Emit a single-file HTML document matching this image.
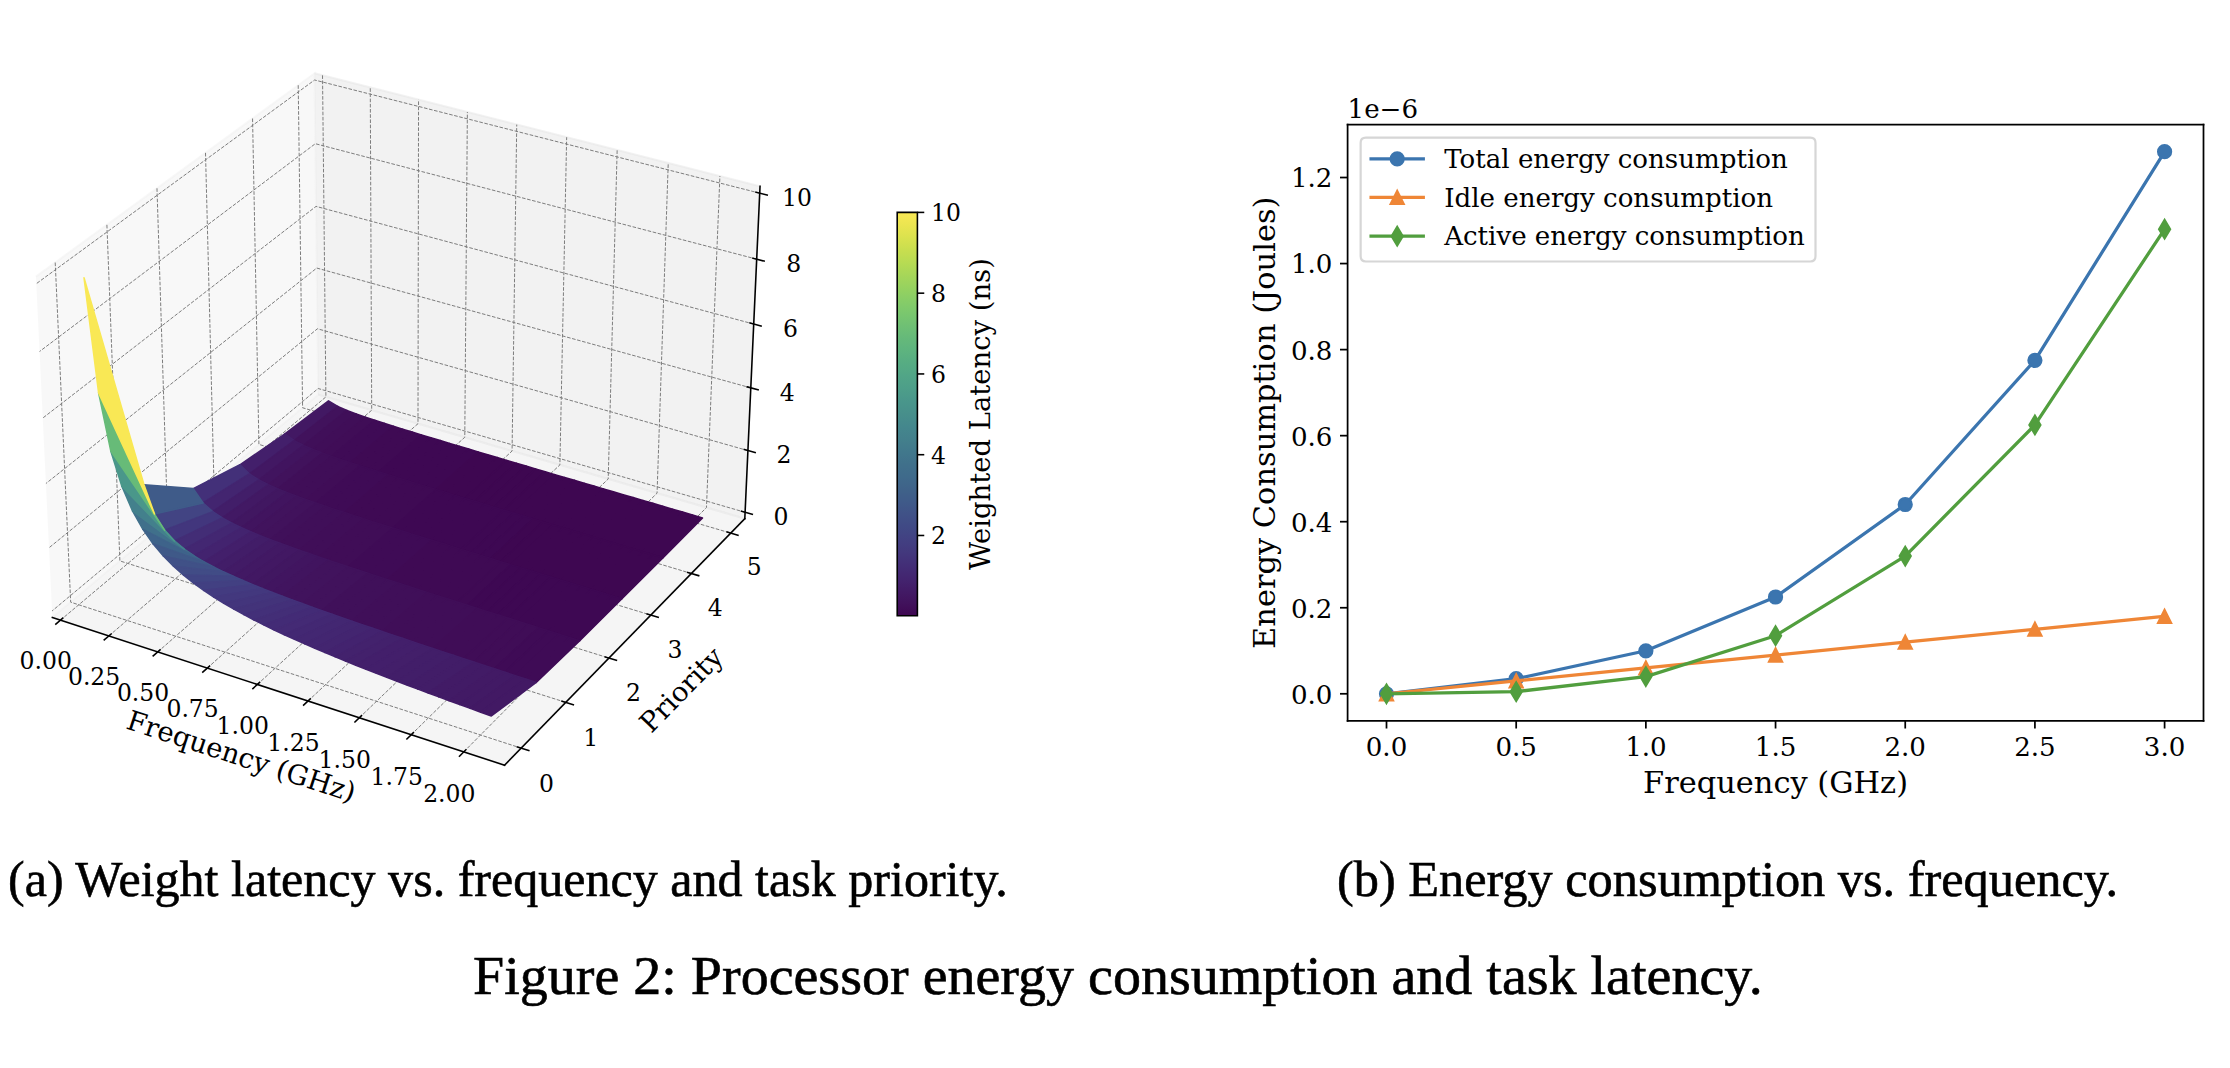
<!DOCTYPE html>
<html><head><meta charset="utf-8"><title>Figure 2</title>
<style>
html,body{margin:0;padding:0;background:#fff;}
body{width:2230px;height:1068px;position:relative;overflow:hidden;}
svg{position:absolute;left:0;top:0;display:block;}
.cap{position:absolute;-webkit-text-stroke:0.6px #000;font-family:"Liberation Serif","Times New Roman",serif;color:#000;white-space:nowrap;line-height:1;}
</style></head><body>
<svg width="2230" height="1068" viewBox="0 0 1137.755102 544.897959">

 <defs>
  <style type="text/css">*{stroke-linejoin: round; stroke-linecap: butt}</style>
 </defs>
 <g id="figure_1">
  <g id="patch_1">
   <path d="M 0 544.897959
L 1137.755102 544.897959
L 1137.755102 0
L 0 0
L 0 544.897959
z
" style="fill: none; opacity: 0"/>
  </g>
  <g id="patch_2">
   <path d="M -1 416.335714
L 406.435714 416.335714
L 406.435714 5.602551
L -1 5.602551
" style="fill: none; opacity: 0"/>
  </g>
  <g id="pane3d_1">
   <g id="patch_3">
    <path d="M 26.715737 315.062079
L 162.353242 201.368033
L 160.467751 37.400895
L 18.339292 141.11977
" style="fill: #f2f2f2; fill-opacity: 0.5; stroke-opacity: 0.5; stroke: #f2f2f2; stroke-linejoin: miter"/>
   </g>
  </g>
  <g id="pane3d_2">
   <g id="patch_4">
    <path d="M 162.353242 201.368033
L 380.003041 264.630237
L 387.770195 95.015439
L 160.467751 37.400895
" style="fill: #e6e6e6; fill-opacity: 0.5; stroke-opacity: 0.5; stroke: #e6e6e6; stroke-linejoin: miter"/>
   </g>
  </g>
  <g id="pane3d_3">
   <g id="patch_5">
    <path d="M 26.715737 315.062079
L 257.435155 390.41504
L 380.003041 264.630237
L 162.353242 201.368033
" style="fill: #ececec; fill-opacity: 0.5; stroke-opacity: 0.5; stroke: #ececec; stroke-linejoin: miter"/>
   </g>
  </g>
  <g id="grid3d_1">
   <g id="Line3DCollection_1">
    <path d="M 30.852439 316.413126
L 166.272567 202.507226
L 164.552419 38.436239
" style="fill: none; stroke-dasharray: 1.85,0.8; stroke-dashoffset: 0; stroke: #7a7a7a; stroke-width: 0.5"/>
    <path d="M 55.530557 324.472999
L 189.640979 209.299501
L 188.913107 44.610964
" style="fill: none; stroke-dasharray: 1.85,0.8; stroke-dashoffset: 0; stroke: #7a7a7a; stroke-width: 0.5"/>
    <path d="M 80.495949 332.626696
L 213.258935 216.164309
L 213.545149 50.854468
" style="fill: none; stroke-dasharray: 1.85,0.8; stroke-dashoffset: 0; stroke: #7a7a7a; stroke-width: 0.5"/>
    <path d="M 105.753662 340.875865
L 237.130454 223.102817
L 238.453106 57.167909
" style="fill: none; stroke-dasharray: 1.85,0.8; stroke-dashoffset: 0; stroke: #7a7a7a; stroke-width: 0.5"/>
    <path d="M 131.308859 349.222193
L 261.259641 230.116219
L 263.641639 63.552468
" style="fill: none; stroke-dasharray: 1.85,0.8; stroke-dashoffset: 0; stroke: #7a7a7a; stroke-width: 0.5"/>
    <path d="M 157.166828 357.667405
L 285.650691 237.205734
L 289.115515 70.009353
" style="fill: none; stroke-dasharray: 1.85,0.8; stroke-dashoffset: 0; stroke: #7a7a7a; stroke-width: 0.5"/>
    <path d="M 183.33298 366.21327
L 310.30789 244.372608
L 314.879611 76.5398
" style="fill: none; stroke-dasharray: 1.85,0.8; stroke-dashoffset: 0; stroke: #7a7a7a; stroke-width: 0.5"/>
    <path d="M 209.812859 374.861599
L 335.235617 251.618115
L 340.938915 83.145074
" style="fill: none; stroke-dasharray: 1.85,0.8; stroke-dashoffset: 0; stroke: #7a7a7a; stroke-width: 0.5"/>
    <path d="M 236.612141 383.614244
L 360.43835 258.943554
L 367.298531 89.826469
" style="fill: none; stroke-dasharray: 1.85,0.8; stroke-dashoffset: 0; stroke: #7a7a7a; stroke-width: 0.5"/>
   </g>
  </g>
  <g id="grid3d_2">
   <g id="Line3DCollection_2">
    <path d="M 28.167749 133.94741
L 36.062234 307.227661
L 265.915837 381.711775
" style="fill: none; stroke-dasharray: 1.85,0.8; stroke-dashoffset: 0; stroke: #7a7a7a; stroke-width: 0.5"/>
    <path d="M 54.541094 114.701344
L 61.166536 286.184737
L 288.669026 358.361405
" style="fill: none; stroke-dasharray: 1.85,0.8; stroke-dashoffset: 0; stroke: #7a7a7a; stroke-width: 0.5"/>
    <path d="M 80.088829 96.057771
L 85.51868 265.772287
L 310.704958 335.747118
" style="fill: none; stroke-dasharray: 1.85,0.8; stroke-dashoffset: 0; stroke: #7a7a7a; stroke-width: 0.5"/>
    <path d="M 104.849126 77.988834
L 109.151971 245.962393
L 332.057022 313.834647
" style="fill: none; stroke-dasharray: 1.85,0.8; stroke-dashoffset: 0; stroke: #7a7a7a; stroke-width: 0.5"/>
    <path d="M 128.857836 60.468371
L 132.097776 226.728765
L 352.756567 292.591822
" style="fill: none; stroke-dasharray: 1.85,0.8; stroke-dashoffset: 0; stroke: #7a7a7a; stroke-width: 0.5"/>
    <path d="M 152.148671 43.47178
L 154.385662 208.046617
L 372.833055 271.988407
" style="fill: none; stroke-dasharray: 1.85,0.8; stroke-dashoffset: 0; stroke: #7a7a7a; stroke-width: 0.5"/>
   </g>
  </g>
  <g id="grid3d_3">
   <g id="Line3DCollection_3">
    <path d="M 380.151848 261.380655
L 162.317044 198.220141
L 26.555522 311.735095
" style="fill: none; stroke-dasharray: 1.85,0.8; stroke-dashoffset: 0; stroke: #7a7a7a; stroke-width: 0.5"/>
    <path d="M 381.593531 229.897996
L 161.966499 167.735869
L 25.002781 279.491423
" style="fill: none; stroke-dasharray: 1.85,0.8; stroke-dashoffset: 0; stroke: #7a7a7a; stroke-width: 0.5"/>
    <path d="M 383.059369 197.887847
L 161.610362 136.765335
L 23.423027 246.686822
" style="fill: none; stroke-dasharray: 1.85,0.8; stroke-dashoffset: 0; stroke: #7a7a7a; stroke-width: 0.5"/>
    <path d="M 384.549974 165.336839
L 161.248499 105.296809
L 21.815551 213.306526
" style="fill: none; stroke-dasharray: 1.85,0.8; stroke-dashoffset: 0; stroke: #7a7a7a; stroke-width: 0.5"/>
    <path d="M 386.065979 132.231148
L 160.880771 73.318185
L 20.179614 179.335248
" style="fill: none; stroke-dasharray: 1.85,0.8; stroke-dashoffset: 0; stroke: #7a7a7a; stroke-width: 0.5"/>
    <path d="M 387.608041 98.556474
L 160.507033 40.816956
L 18.514456 144.757151
" style="fill: none; stroke-dasharray: 1.85,0.8; stroke-dashoffset: 0; stroke: #7a7a7a; stroke-width: 0.5"/>
   </g>
  </g>
  <g id="axis3d_1">
   <g id="line2d_1">
    <path d="M 26.715737 315.062079
L 257.435155 390.41504
" style="fill: none; stroke: #000000; stroke-width: 0.8; stroke-linecap: square"/>
   </g>
   <g id="xtick_1">
    <g id="line2d_2">
     <path d="M 32.031449 315.421425
L 28.48937 318.400773
" style="fill: none; stroke: #000000; stroke-width: 0.8; stroke-linecap: square"/>
    </g>
    <g id="text_1">
     <text style="font-size: 12px; font-family: 'DejaVu Serif', serif; text-anchor: middle" x="23.326971" y="341.177522" transform="rotate(-0 23.326971 341.177522)">0.00</text>
    </g>
   </g>
   <g id="xtick_2">
    <g id="line2d_3">
     <path d="M 56.698712 323.469792
L 53.189216 326.483733
" style="fill: none; stroke: #000000; stroke-width: 0.8; stroke-linecap: square"/>
    </g>
    <g id="text_2">
     <text style="font-size: 12px; font-family: 'DejaVu Serif', serif; text-anchor: middle" x="48.021" y="349.347608" transform="rotate(-0 48.021 349.347608)">0.25</text>
    </g>
   </g>
   <g id="xtick_3">
    <g id="line2d_4">
     <path d="M 81.652917 331.611781
L 78.177004 334.660922
" style="fill: none; stroke: #000000; stroke-width: 0.8; stroke-linecap: square"/>
    </g>
    <g id="text_3">
     <text style="font-size: 12px; font-family: 'DejaVu Serif', serif; text-anchor: middle" x="73.003186" y="357.613032" transform="rotate(-0 73.003186 357.613032)">0.50</text>
    </g>
   </g>
   <g id="xtick_4">
    <g id="line2d_5">
     <path d="M 106.899099 339.849036
L 103.457799 342.933997
" style="fill: none; stroke: #000000; stroke-width: 0.8; stroke-linecap: square"/>
    </g>
    <g id="text_4">
     <text style="font-size: 12px; font-family: 'DejaVu Serif', serif; text-anchor: middle" x="98.278603" y="365.975472" transform="rotate(-0 98.278603 365.975472)">0.75</text>
    </g>
   </g>
   <g id="xtick_5">
    <g id="line2d_6">
     <path d="M 132.442412 348.183238
L 129.036786 351.304654
" style="fill: none; stroke: #000000; stroke-width: 0.8; stroke-linecap: square"/>
    </g>
    <g id="text_5">
     <text style="font-size: 12px; font-family: 'DejaVu Serif', serif; text-anchor: middle" x="123.852444" y="374.436647" transform="rotate(-0 123.852444 374.436647)">1.00</text>
    </g>
   </g>
   <g id="xtick_6">
    <g id="line2d_7">
     <path d="M 158.288135 356.616109
L 154.919271 359.774631
" style="fill: none; stroke: #000000; stroke-width: 0.8; stroke-linecap: square"/>
    </g>
    <g id="text_6">
     <text style="font-size: 12px; font-family: 'DejaVu Serif', serif; text-anchor: middle" x="149.730027" y="382.998315" transform="rotate(-0 149.730027 382.998315)">1.25</text>
    </g>
   </g>
   <g id="xtick_7">
    <g id="line2d_8">
     <path d="M 184.441668 365.149412
L 181.110688 368.345704
" style="fill: none; stroke: #000000; stroke-width: 0.8; stroke-linecap: square"/>
    </g>
    <g id="text_7">
     <text style="font-size: 12px; font-family: 'DejaVu Serif', serif; text-anchor: middle" x="175.916793" y="391.662278" transform="rotate(-0 175.916793 391.662278)">1.50</text>
    </g>
   </g>
   <g id="xtick_8">
    <g id="line2d_9">
     <path d="M 210.908544 373.784952
L 207.616601 377.019696
" style="fill: none; stroke: #000000; stroke-width: 0.8; stroke-linecap: square"/>
    </g>
    <g id="text_8">
     <text style="font-size: 12px; font-family: 'DejaVu Serif', serif; text-anchor: middle" x="202.418319" y="400.43038" transform="rotate(-0 202.418319 400.43038)">1.75</text>
    </g>
   </g>
   <g id="xtick_9">
    <g id="line2d_10">
     <path d="M 237.694428 382.524576
L 234.44271 385.79847
" style="fill: none; stroke: #000000; stroke-width: 0.8; stroke-linecap: square"/>
    </g>
    <g id="text_9">
     <text style="font-size: 12px; font-family: 'DejaVu Serif', serif; text-anchor: middle" x="229.240313" y="409.304509" transform="rotate(-0 229.240313 409.304509)">2.00</text>
    </g>
   </g>
   <g id="text_10">
    <text style="font-size: 14px; font-family: 'DejaVu Serif', serif; text-anchor: middle" x="121.62181" y="390.492105" transform="rotate(-341.912962 121.62181 390.492105)">Frequency (GHz)</text>
   </g>
  </g>
  <g id="axis3d_2">
   <g id="line2d_11">
    <path d="M 380.003041 264.630237
L 257.435155 390.41504
" style="fill: none; stroke: #000000; stroke-width: 0.8; stroke-linecap: square"/>
   </g>
   <g id="xtick_10">
    <g id="line2d_12">
     <path d="M 263.978853 381.084095
L 269.794812 382.968758
" style="fill: none; stroke: #000000; stroke-width: 0.8; stroke-linecap: square"/>
    </g>
    <g id="text_11">
     <text style="font-size: 12px; font-family: 'DejaVu Serif', serif; text-anchor: middle" x="278.793756" y="404.250363" transform="rotate(-0 278.793756 404.250363)">0</text>
    </g>
   </g>
   <g id="xtick_11">
    <g id="line2d_13">
     <path d="M 286.75341 357.753664
L 292.505131 359.578435
" style="fill: none; stroke: #000000; stroke-width: 0.8; stroke-linecap: square"/>
    </g>
    <g id="text_12">
     <text style="font-size: 12px; font-family: 'DejaVu Serif', serif; text-anchor: middle" x="301.349322" y="380.676084" transform="rotate(-0 301.349322 380.676084)">1</text>
    </g>
   </g>
   <g id="xtick_12">
    <g id="line2d_14">
     <path d="M 308.810336 335.158379
L 314.498946 336.926069
" style="fill: none; stroke: #000000; stroke-width: 0.8; stroke-linecap: square"/>
    </g>
    <g id="text_13">
     <text style="font-size: 12px; font-family: 'DejaVu Serif', serif; text-anchor: middle" x="323.193594" y="357.845224" transform="rotate(-0 323.193594 357.845224)">2</text>
    </g>
   </g>
   <g id="xtick_13">
    <g id="line2d_15">
     <path d="M 330.183024 313.264034
L 335.809639 314.97728
" style="fill: none; stroke: #000000; stroke-width: 0.8; stroke-linecap: square"/>
    </g>
    <g id="text_14">
     <text style="font-size: 12px; font-family: 'DejaVu Serif', serif; text-anchor: middle" x="344.359695" y="335.723164" transform="rotate(-0 344.359695 335.723164)">3</text>
    </g>
   </g>
   <g id="xtick_14">
    <g id="line2d_16">
     <path d="M 350.902826 292.03851
L 356.468551 293.699788
" style="fill: none; stroke: #000000; stroke-width: 0.8; stroke-linecap: square"/>
    </g>
    <g id="text_15">
     <text style="font-size: 12px; font-family: 'DejaVu Serif', serif; text-anchor: middle" x="364.878724" y="314.2774" transform="rotate(-0 364.878724 314.2774)">4</text>
    </g>
   </g>
   <g id="xtick_15">
    <g id="line2d_17">
     <path d="M 370.999209 271.451621
L 376.505132 273.063261
" style="fill: none; stroke: #000000; stroke-width: 0.8; stroke-linecap: square"/>
    </g>
    <g id="text_16">
     <text style="font-size: 12px; font-family: 'DejaVu Serif', serif; text-anchor: middle" x="384.779908" y="293.477387" transform="rotate(-0 384.779908 293.477387)">5</text>
    </g>
   </g>
   <g id="text_17">
    <text style="font-size: 14px; font-family: 'DejaVu Serif', serif; text-anchor: middle" x="351.046046" y="355.262257" transform="rotate(-45.742112 351.046046 355.262257)">Priority</text>
   </g>
  </g>
  <g id="axis3d_3">
   <g id="line2d_18">
    <path d="M 380.003041 264.630237
L 387.770195 95.015439
" style="fill: none; stroke: #000000; stroke-width: 0.8; stroke-linecap: square"/>
   </g>
   <g id="xtick_16">
    <g id="line2d_19">
     <path d="M 378.323541 260.850543
L 383.812815 262.442141
" style="fill: none; stroke: #000000; stroke-width: 0.8; stroke-linecap: square"/>
    </g>
    <g id="text_18">
     <text style="font-size: 12px; font-family: 'DejaVu Serif', serif; text-anchor: middle" x="398.435131" y="267.895121" transform="rotate(-0 398.435131 267.895121)">0</text>
    </g>
   </g>
   <g id="xtick_17">
    <g id="line2d_20">
     <path d="M 379.749464 229.376061
L 385.28609 230.943119
" style="fill: none; stroke: #000000; stroke-width: 0.8; stroke-linecap: square"/>
    </g>
    <g id="text_19">
     <text style="font-size: 12px; font-family: 'DejaVu Serif', serif; text-anchor: middle" x="400.025582" y="236.452654" transform="rotate(-0 400.025582 236.452654)">2</text>
    </g>
   </g>
   <g id="xtick_18">
    <g id="line2d_21">
     <path d="M 381.199269 197.374438
L 386.78407 198.915908
" style="fill: none; stroke: #000000; stroke-width: 0.8; stroke-linecap: square"/>
    </g>
    <g id="text_20">
     <text style="font-size: 12px; font-family: 'DejaVu Serif', serif; text-anchor: middle" x="401.642627" y="204.484414" transform="rotate(-0 401.642627 204.484414)">4</text>
    </g>
   </g>
   <g id="xtick_19">
    <g id="line2d_22">
     <path d="M 382.67356 164.83232
L 388.307381 166.34711
" style="fill: none; stroke: #000000; stroke-width: 0.8; stroke-linecap: square"/>
    </g>
    <g id="text_21">
     <text style="font-size: 12px; font-family: 'DejaVu Serif', serif; text-anchor: middle" x="403.28694" y="171.977101" transform="rotate(-0 403.28694 171.977101)">6</text>
    </g>
   </g>
   <g id="xtick_20">
    <g id="line2d_23">
     <path d="M 384.172964 131.735898
L 389.85667 133.222869
" style="fill: none; stroke: #000000; stroke-width: 0.8; stroke-linecap: square"/>
    </g>
    <g id="text_22">
     <text style="font-size: 12px; font-family: 'DejaVu Serif', serif; text-anchor: middle" x="404.959217" y="138.916964" transform="rotate(-0 404.959217 138.916964)">8</text>
    </g>
   </g>
   <g id="xtick_21">
    <g id="line2d_24">
     <path d="M 385.698127 98.070886
L 391.43261 99.528855
" style="fill: none; stroke: #000000; stroke-width: 0.8; stroke-linecap: square"/>
    </g>
    <g id="text_23">
     <text style="font-size: 12px; font-family: 'DejaVu Serif', serif; text-anchor: middle" x="406.660176" y="105.28978" transform="rotate(-0 406.660176 105.28978)">10</text>
    </g>
   </g>
  </g>
  <g id="axes_1">
   <g id="Poly3DCollection_1">
    <path d="M 145.355862 221.384087
L 150.131895 224.844491
L 172.304221 207.319764
L 167.592919 204.540737
z
" clip-path="url(#pa46f4c1c01)" style="fill: #421863; stroke: #421863; stroke-width: 0.8; stroke-linejoin: round"/>
    <path d="M 150.131895 224.844491
L 154.899268 227.282339
L 177.016686 209.397061
L 172.304221 207.319764
z
" clip-path="url(#pa46f4c1c01)" style="fill: #41125c; stroke: #41125c; stroke-width: 0.8; stroke-linejoin: round"/>
    <path d="M 154.899268 227.282339
L 159.669376 229.313404
L 181.735664 211.195617
L 177.016686 209.397061
z
" clip-path="url(#pa46f4c1c01)" style="fill: #400f59; stroke: #400f59; stroke-width: 0.8; stroke-linejoin: round"/>
    <path d="M 159.669376 229.313404
L 164.446037 231.14273
L 186.462957 212.856331
L 181.735664 211.195617
z
" clip-path="url(#pa46f4c1c01)" style="fill: #400e58; stroke: #400e58; stroke-width: 0.8; stroke-linejoin: round"/>
    <path d="M 164.446037 231.14273
L 169.230905 232.858145
L 191.199358 214.439569
L 186.462957 212.856331
z
" clip-path="url(#pa46f4c1c01)" style="fill: #400d57; stroke: #400d57; stroke-width: 0.8; stroke-linejoin: round"/>
    <path d="M 169.230905 232.858145
L 174.024822 234.503551
L 195.945277 215.97551
L 191.199358 214.439569
z
" clip-path="url(#pa46f4c1c01)" style="fill: #3f0b56; stroke: #3f0b56; stroke-width: 0.8; stroke-linejoin: round"/>
    <path d="M 174.024822 234.503551
L 178.828273 236.103334
L 200.700958 217.480921
L 195.945277 215.97551
z
" clip-path="url(#pa46f4c1c01)" style="fill: #3f0b56; stroke: #3f0b56; stroke-width: 0.8; stroke-linejoin: round"/>
    <path d="M 178.828273 236.103334
L 183.641562 237.672129
L 205.46656 218.965865
L 200.700958 217.480921
z
" clip-path="url(#pa46f4c1c01)" style="fill: #3f0a54; stroke: #3f0a54; stroke-width: 0.8; stroke-linejoin: round"/>
    <path d="M 183.641562 237.672129
L 188.464894 239.21925
L 210.242196 220.436749
L 205.46656 218.965865
z
" clip-path="url(#pa46f4c1c01)" style="fill: #3f0a54; stroke: #3f0a54; stroke-width: 0.8; stroke-linejoin: round"/>
    <path d="M 188.464894 239.21925
L 193.298419 240.750909
L 215.027954 221.897845
L 210.242196 220.436749
z
" clip-path="url(#pa46f4c1c01)" style="fill: #3f0a54; stroke: #3f0a54; stroke-width: 0.8; stroke-linejoin: round"/>
    <path d="M 193.298419 240.750909
L 198.14225 242.271409
L 219.823904 223.352116
L 215.027954 221.897845
z
" clip-path="url(#pa46f4c1c01)" style="fill: #3e0853; stroke: #3e0853; stroke-width: 0.8; stroke-linejoin: round"/>
    <path d="M 198.14225 242.271409
L 202.996479 243.783827
L 224.630105 224.80168
L 219.823904 223.352116
z
" clip-path="url(#pa46f4c1c01)" style="fill: #3e0853; stroke: #3e0853; stroke-width: 0.8; stroke-linejoin: round"/>
    <path d="M 202.996479 243.783827
L 207.861181 245.290422
L 229.44661 226.248092
L 224.630105 224.80168
z
" clip-path="url(#pa46f4c1c01)" style="fill: #3e0853; stroke: #3e0853; stroke-width: 0.8; stroke-linejoin: round"/>
    <path d="M 207.861181 245.290422
L 212.736424 246.79289
L 234.273469 227.692522
L 229.44661 226.248092
z
" clip-path="url(#pa46f4c1c01)" style="fill: #3e0853; stroke: #3e0853; stroke-width: 0.8; stroke-linejoin: round"/>
    <path d="M 212.736424 246.79289
L 217.622266 248.292531
L 239.110725 229.135867
L 234.273469 227.692522
z
" clip-path="url(#pa46f4c1c01)" style="fill: #3e0853; stroke: #3e0853; stroke-width: 0.8; stroke-linejoin: round"/>
    <path d="M 122.400833 237.143822
L 127.263833 241.835349
L 150.131895 224.844491
L 145.355862 221.384087
z
" clip-path="url(#pa46f4c1c01)" style="fill: #431f6b; stroke: #431f6b; stroke-width: 0.8; stroke-linejoin: round"/>
    <path d="M 217.622266 248.292531
L 222.51876 249.790359
L 243.958421 230.578825
L 239.110725 229.135867
z
" clip-path="url(#pa46f4c1c01)" style="fill: #3e0853; stroke: #3e0853; stroke-width: 0.8; stroke-linejoin: round"/>
    <path d="M 127.263833 241.835349
L 132.097521 244.90873
L 154.899268 227.282339
L 150.131895 224.844491
z
" clip-path="url(#pa46f4c1c01)" style="fill: #421863; stroke: #421863; stroke-width: 0.8; stroke-linejoin: round"/>
    <path d="M 222.51876 249.790359
L 227.425958 251.287176
L 248.816598 232.021952
L 243.958421 230.578825
z
" clip-path="url(#pa46f4c1c01)" style="fill: #3e0751; stroke: #3e0751; stroke-width: 0.8; stroke-linejoin: round"/>
    <path d="M 132.097521 244.90873
L 136.925854 247.33777
L 159.669376 229.313404
L 154.899268 227.282339
z
" clip-path="url(#pa46f4c1c01)" style="fill: #41145f; stroke: #41145f; stroke-width: 0.8; stroke-linejoin: round"/>
    <path d="M 227.425958 251.287176
L 232.343906 252.783625
L 253.685297 233.465692
L 248.816598 232.021952
z
" clip-path="url(#pa46f4c1c01)" style="fill: #3e0751; stroke: #3e0751; stroke-width: 0.8; stroke-linejoin: round"/>
    <path d="M 136.925854 247.33777
L 141.756827 249.446527
L 164.446037 231.14273
L 159.669376 229.313404
z
" clip-path="url(#pa46f4c1c01)" style="fill: #41125c; stroke: #41125c; stroke-width: 0.8; stroke-linejoin: round"/>
    <path d="M 141.756827 249.446527
L 146.593881 251.373754
L 169.230905 232.858145
L 164.446037 231.14273
z
" clip-path="url(#pa46f4c1c01)" style="fill: #400f59; stroke: #400f59; stroke-width: 0.8; stroke-linejoin: round"/>
    <path d="M 232.343906 252.783625
L 237.272649 254.280231
L 258.564556 234.910408
L 253.685297 233.465692
z
" clip-path="url(#pa46f4c1c01)" style="fill: #3e0751; stroke: #3e0751; stroke-width: 0.8; stroke-linejoin: round"/>
    <path d="M 146.593881 251.373754
L 151.438757 253.18879
L 174.024822 234.503551
L 169.230905 232.858145
z
" clip-path="url(#pa46f4c1c01)" style="fill: #400e58; stroke: #400e58; stroke-width: 0.8; stroke-linejoin: round"/>
    <path d="M 237.272649 254.280231
L 242.212231 255.777422
L 263.454412 236.356399
L 258.564556 234.910408
z
" clip-path="url(#pa46f4c1c01)" style="fill: #3e0751; stroke: #3e0751; stroke-width: 0.8; stroke-linejoin: round"/>
    <path d="M 151.438757 253.18879
L 156.292434 254.930143
L 178.828273 236.103334
L 174.024822 234.503551
z
" clip-path="url(#pa46f4c1c01)" style="fill: #400e58; stroke: #400e58; stroke-width: 0.8; stroke-linejoin: round"/>
    <path d="M 242.212231 255.777422
L 247.162696 257.275557
L 268.354905 237.803913
L 263.454412 236.356399
z
" clip-path="url(#pa46f4c1c01)" style="fill: #3e0751; stroke: #3e0751; stroke-width: 0.8; stroke-linejoin: round"/>
    <path d="M 156.292434 254.930143
L 161.155515 256.620914
L 183.641562 237.672129
L 178.828273 236.103334
z
" clip-path="url(#pa46f4c1c01)" style="fill: #400d57; stroke: #400d57; stroke-width: 0.8; stroke-linejoin: round"/>
    <path d="M 247.162696 257.275557
L 252.124084 258.774935
L 273.26607 239.253159
L 268.354905 237.803913
z
" clip-path="url(#pa46f4c1c01)" style="fill: #3e0751; stroke: #3e0751; stroke-width: 0.8; stroke-linejoin: round"/>
    <path d="M 161.155515 256.620914
L 166.028398 258.275806
L 188.464894 239.21925
L 183.641562 237.672129
z
" clip-path="url(#pa46f4c1c01)" style="fill: #3f0b56; stroke: #3f0b56; stroke-width: 0.8; stroke-linejoin: round"/>
    <path d="M 252.124084 258.774935
L 257.096436 260.275809
L 278.187946 240.704314
L 273.26607 239.253159
z
" clip-path="url(#pa46f4c1c01)" style="fill: #3e0751; stroke: #3e0751; stroke-width: 0.8; stroke-linejoin: round"/>
    <path d="M 166.028398 258.275806
L 170.911357 259.904619
L 193.298419 240.750909
L 188.464894 239.21925
z
" clip-path="url(#pa46f4c1c01)" style="fill: #3f0b56; stroke: #3f0b56; stroke-width: 0.8; stroke-linejoin: round"/>
    <path d="M 257.096436 260.275809
L 262.079793 261.778395
L 283.120569 242.15753
L 278.187946 240.704314
z
" clip-path="url(#pa46f4c1c01)" style="fill: #3e0751; stroke: #3e0751; stroke-width: 0.8; stroke-linejoin: round"/>
    <path d="M 170.911357 259.904619
L 175.804596 261.514144
L 198.14225 242.271409
L 193.298419 240.750909
z
" clip-path="url(#pa46f4c1c01)" style="fill: #3f0b56; stroke: #3f0b56; stroke-width: 0.8; stroke-linejoin: round"/>
    <path d="M 262.079793 261.778395
L 267.074194 263.28288
L 288.063976 243.612936
L 283.120569 242.15753
z
" clip-path="url(#pa46f4c1c01)" style="fill: #3e0751; stroke: #3e0751; stroke-width: 0.8; stroke-linejoin: round"/>
    <path d="M 175.804596 261.514144
L 180.70827 263.10923
L 202.996479 243.783827
L 198.14225 242.271409
z
" clip-path="url(#pa46f4c1c01)" style="fill: #3f0a54; stroke: #3f0a54; stroke-width: 0.8; stroke-linejoin: round"/>
    <path d="M 267.074194 263.28288
L 272.07968 264.789423
L 293.018205 245.070646
L 288.063976 243.612936
z
" clip-path="url(#pa46f4c1c01)" style="fill: #3e0751; stroke: #3e0751; stroke-width: 0.8; stroke-linejoin: round"/>
    <path d="M 180.70827 263.10923
L 185.622502 264.693439
L 207.861181 245.290422
L 202.996479 243.783827
z
" clip-path="url(#pa46f4c1c01)" style="fill: #3f0a54; stroke: #3f0a54; stroke-width: 0.8; stroke-linejoin: round"/>
    <path d="M 272.07968 264.789423
L 277.09629 266.298165
L 297.98329 246.53076
L 293.018205 245.070646
z
" clip-path="url(#pa46f4c1c01)" style="fill: #3e0751; stroke: #3e0751; stroke-width: 0.8; stroke-linejoin: round"/>
    <path d="M 185.622502 264.693439
L 190.547395 266.269442
L 212.736424 246.79289
L 207.861181 245.290422
z
" clip-path="url(#pa46f4c1c01)" style="fill: #3f0a54; stroke: #3f0a54; stroke-width: 0.8; stroke-linejoin: round"/>
    <path d="M 277.09629 266.298165
L 282.124063 267.80923
L 302.95927 247.993364
L 297.98329 246.53076
z
" clip-path="url(#pa46f4c1c01)" style="fill: #3e0751; stroke: #3e0751; stroke-width: 0.8; stroke-linejoin: round"/>
    <path d="M 190.547395 266.269442
L 195.483033 267.839287
L 217.622266 248.292531
L 212.736424 246.79289
z
" clip-path="url(#pa46f4c1c01)" style="fill: #3f0a54; stroke: #3f0a54; stroke-width: 0.8; stroke-linejoin: round"/>
    <path d="M 282.124063 267.80923
L 287.163038 269.322726
L 307.946182 249.458537
L 302.95927 247.993364
z
" clip-path="url(#pa46f4c1c01)" style="fill: #3e0751; stroke: #3e0751; stroke-width: 0.8; stroke-linejoin: round"/>
    <path d="M 195.483033 267.839287
L 200.429494 269.404566
L 222.51876 249.790359
L 217.622266 248.292531
z
" clip-path="url(#pa46f4c1c01)" style="fill: #3f0a54; stroke: #3f0a54; stroke-width: 0.8; stroke-linejoin: round"/>
    <path d="M 287.163038 269.322726
L 292.213256 270.838748
L 312.944061 250.926348
L 307.946182 249.458537
z
" clip-path="url(#pa46f4c1c01)" style="fill: #3e0751; stroke: #3e0751; stroke-width: 0.8; stroke-linejoin: round"/>
    <path d="M 200.429494 269.404566
L 205.386845 270.966542
L 227.425958 251.287176
L 222.51876 249.790359
z
" clip-path="url(#pa46f4c1c01)" style="fill: #3e0853; stroke: #3e0853; stroke-width: 0.8; stroke-linejoin: round"/>
    <path d="M 98.592873 249.288444
L 103.602561 256.618843
L 127.263833 241.835349
L 122.400833 237.143822
z
" clip-path="url(#pa46f4c1c01)" style="fill: #433079; stroke: #433079; stroke-width: 0.8; stroke-linejoin: round"/>
    <path d="M 103.602561 256.618843
L 108.532624 261.029192
L 132.097521 244.90873
L 127.263833 241.835349
z
" clip-path="url(#pa46f4c1c01)" style="fill: #432570; stroke: #432570; stroke-width: 0.8; stroke-linejoin: round"/>
    <path d="M 292.213256 270.838748
L 297.274753 272.357384
L 317.952945 252.396858
L 312.944061 250.926348
z
" clip-path="url(#pa46f4c1c01)" style="fill: #3e0751; stroke: #3e0751; stroke-width: 0.8; stroke-linejoin: round"/>
    <path d="M 108.532624 261.029192
L 113.437438 264.27676
L 136.925854 247.33777
L 132.097521 244.90873
z
" clip-path="url(#pa46f4c1c01)" style="fill: #421e69; stroke: #421e69; stroke-width: 0.8; stroke-linejoin: round"/>
    <path d="M 205.386845 270.966542
L 210.355147 272.526224
L 232.343906 252.783625
L 227.425958 251.287176
z
" clip-path="url(#pa46f4c1c01)" style="fill: #3e0853; stroke: #3e0853; stroke-width: 0.8; stroke-linejoin: round"/>
    <path d="M 297.274753 272.357384
L 302.347571 273.878712
L 322.972871 253.870124
L 317.952945 252.396858
z
" clip-path="url(#pa46f4c1c01)" style="fill: #3e0751; stroke: #3e0751; stroke-width: 0.8; stroke-linejoin: round"/>
    <path d="M 113.437438 264.27676
L 118.335098 266.945517
L 141.756827 249.446527
L 136.925854 247.33777
z
" clip-path="url(#pa46f4c1c01)" style="fill: #421964; stroke: #421964; stroke-width: 0.8; stroke-linejoin: round"/>
    <path d="M 210.355147 272.526224
L 215.334459 274.084433
L 237.272649 254.280231
L 232.343906 252.783625
z
" clip-path="url(#pa46f4c1c01)" style="fill: #3e0853; stroke: #3e0853; stroke-width: 0.8; stroke-linejoin: round"/>
    <path d="M 118.335098 266.945517
L 123.233368 269.285306
L 146.593881 251.373754
L 141.756827 249.446527
z
" clip-path="url(#pa46f4c1c01)" style="fill: #411761; stroke: #411761; stroke-width: 0.8; stroke-linejoin: round"/>
    <path d="M 302.347571 273.878712
L 307.431748 275.402799
L 328.003876 255.346197
L 322.972871 253.870124
z
" clip-path="url(#pa46f4c1c01)" style="fill: #3e0751; stroke: #3e0751; stroke-width: 0.8; stroke-linejoin: round"/>
    <path d="M 215.334459 274.084433
L 220.324832 275.641843
L 242.212231 255.777422
L 237.272649 254.280231
z
" clip-path="url(#pa46f4c1c01)" style="fill: #3e0853; stroke: #3e0853; stroke-width: 0.8; stroke-linejoin: round"/>
    <path d="M 123.233368 269.285306
L 128.13614 271.420908
L 151.438757 253.18879
L 146.593881 251.373754
z
" clip-path="url(#pa46f4c1c01)" style="fill: #41145f; stroke: #41145f; stroke-width: 0.8; stroke-linejoin: round"/>
    <path d="M 307.431748 275.402799
L 312.527323 276.929712
L 333.045998 256.825124
L 328.003876 255.346197
z
" clip-path="url(#pa46f4c1c01)" style="fill: #3e0751; stroke: #3e0751; stroke-width: 0.8; stroke-linejoin: round"/>
    <path d="M 220.324832 275.641843
L 225.326319 277.19901
L 247.162696 257.275557
L 242.212231 255.777422
z
" clip-path="url(#pa46f4c1c01)" style="fill: #3e0853; stroke: #3e0853; stroke-width: 0.8; stroke-linejoin: round"/>
    <path d="M 128.13614 271.420908
L 133.045596 273.421598
L 156.292434 254.930143
L 151.438757 253.18879
z
" clip-path="url(#pa46f4c1c01)" style="fill: #41135d; stroke: #41135d; stroke-width: 0.8; stroke-linejoin: round"/>
    <path d="M 312.527323 276.929712
L 317.634336 278.459506
L 338.099273 258.306946
L 333.045998 256.825124
z
" clip-path="url(#pa46f4c1c01)" style="fill: #3e0751; stroke: #3e0751; stroke-width: 0.8; stroke-linejoin: round"/>
    <path d="M 225.326319 277.19901
L 230.338968 278.756404
L 252.124084 258.774935
L 247.162696 257.275557
z
" clip-path="url(#pa46f4c1c01)" style="fill: #3e0853; stroke: #3e0853; stroke-width: 0.8; stroke-linejoin: round"/>
    <path d="M 133.045596 273.421598
L 137.963054 275.328917
L 161.155515 256.620914
L 156.292434 254.930143
z
" clip-path="url(#pa46f4c1c01)" style="fill: #41125c; stroke: #41125c; stroke-width: 0.8; stroke-linejoin: round"/>
    <path d="M 317.634336 278.459506
L 322.752826 279.992236
L 343.163739 259.791704
L 338.099273 258.306946
z
" clip-path="url(#pa46f4c1c01)" style="fill: #3e0751; stroke: #3e0751; stroke-width: 0.8; stroke-linejoin: round"/>
    <path d="M 137.963054 275.328917
L 142.889371 277.169293
L 166.028398 258.275806
L 161.155515 256.620914
z
" clip-path="url(#pa46f4c1c01)" style="fill: #40105a; stroke: #40105a; stroke-width: 0.8; stroke-linejoin: round"/>
    <path d="M 230.338968 278.756404
L 235.362827 280.314417
L 257.096436 260.275809
L 252.124084 258.774935
z
" clip-path="url(#pa46f4c1c01)" style="fill: #3e0853; stroke: #3e0853; stroke-width: 0.8; stroke-linejoin: round"/>
    <path d="M 322.752826 279.992236
L 327.882832 281.52795
L 348.239434 261.279434
L 343.163739 259.791704
z
" clip-path="url(#pa46f4c1c01)" style="fill: #3e0751; stroke: #3e0751; stroke-width: 0.8; stroke-linejoin: round"/>
    <path d="M 142.889371 277.169293
L 147.825126 278.960343
L 170.911357 259.904619
L 166.028398 258.275806
z
" clip-path="url(#pa46f4c1c01)" style="fill: #400f59; stroke: #400f59; stroke-width: 0.8; stroke-linejoin: round"/>
    <path d="M 235.362827 280.314417
L 240.397942 281.873386
L 262.079793 261.778395
L 257.096436 260.275809
z
" clip-path="url(#pa46f4c1c01)" style="fill: #3e0853; stroke: #3e0853; stroke-width: 0.8; stroke-linejoin: round"/>
    <path d="M 327.882832 281.52795
L 333.024395 283.066693
L 353.326395 262.77017
L 348.239434 261.279434
z
" clip-path="url(#pa46f4c1c01)" style="fill: #3e0751; stroke: #3e0751; stroke-width: 0.8; stroke-linejoin: round"/>
    <path d="M 147.825126 278.960343
L 152.770735 280.71426
L 175.804596 261.514144
L 170.911357 259.904619
z
" clip-path="url(#pa46f4c1c01)" style="fill: #400f59; stroke: #400f59; stroke-width: 0.8; stroke-linejoin: round"/>
    <path d="M 240.397942 281.873386
L 245.444358 283.433597
L 267.074194 263.28288
L 262.079793 261.778395
z
" clip-path="url(#pa46f4c1c01)" style="fill: #3e0853; stroke: #3e0853; stroke-width: 0.8; stroke-linejoin: round"/>
    <path d="M 333.024395 283.066693
L 338.177553 284.608507
L 358.42466 264.263944
L 353.326395 262.77017
z
" clip-path="url(#pa46f4c1c01)" style="fill: #3e0751; stroke: #3e0751; stroke-width: 0.8; stroke-linejoin: round"/>
    <path d="M 152.770735 280.71426
L 157.726504 282.439759
L 180.70827 263.10923
L 175.804596 261.514144
z
" clip-path="url(#pa46f4c1c01)" style="fill: #400e58; stroke: #400e58; stroke-width: 0.8; stroke-linejoin: round"/>
    <path d="M 245.444358 283.433597
L 250.502119 284.9953
L 272.07968 264.789423
L 267.074194 263.28288
z
" clip-path="url(#pa46f4c1c01)" style="fill: #3e0853; stroke: #3e0853; stroke-width: 0.8; stroke-linejoin: round"/>
    <path d="M 157.726504 282.439759
L 162.692668 284.143228
L 185.622502 264.693439
L 180.70827 263.10923
z
" clip-path="url(#pa46f4c1c01)" style="fill: #400e58; stroke: #400e58; stroke-width: 0.8; stroke-linejoin: round"/>
    <path d="M 250.502119 284.9953
L 255.571269 286.558709
L 277.09629 266.298165
L 272.07968 264.789423
z
" clip-path="url(#pa46f4c1c01)" style="fill: #3e0751; stroke: #3e0751; stroke-width: 0.8; stroke-linejoin: round"/>
    <path d="M 162.692668 284.143228
L 167.669413 285.829463
L 190.547395 266.269442
L 185.622502 264.693439
z
" clip-path="url(#pa46f4c1c01)" style="fill: #400d57; stroke: #400d57; stroke-width: 0.8; stroke-linejoin: round"/>
    <path d="M 255.571269 286.558709
L 260.65185 288.124012
L 282.124063 267.80923
L 277.09629 266.298165
z
" clip-path="url(#pa46f4c1c01)" style="fill: #3e0751; stroke: #3e0751; stroke-width: 0.8; stroke-linejoin: round"/>
    <path d="M 167.669413 285.829463
L 172.65689 287.502132
L 195.483033 267.839287
L 190.547395 266.269442
z
" clip-path="url(#pa46f4c1c01)" style="fill: #400d57; stroke: #400d57; stroke-width: 0.8; stroke-linejoin: round"/>
    <path d="M 260.65185 288.124012
L 265.743906 289.691376
L 287.163038 269.322726
L 282.124063 267.80923
z
" clip-path="url(#pa46f4c1c01)" style="fill: #3e0751; stroke: #3e0751; stroke-width: 0.8; stroke-linejoin: round"/>
    <path d="M 172.65689 287.502132
L 177.655225 289.164093
L 200.429494 269.404566
L 195.483033 267.839287
z
" clip-path="url(#pa46f4c1c01)" style="fill: #400d57; stroke: #400d57; stroke-width: 0.8; stroke-linejoin: round"/>
    <path d="M 265.743906 289.691376
L 270.84748 291.260948
L 292.213256 270.838748
L 287.163038 269.322726
z
" clip-path="url(#pa46f4c1c01)" style="fill: #3e0751; stroke: #3e0751; stroke-width: 0.8; stroke-linejoin: round"/>
    <path d="M 177.655225 289.164093
L 182.664527 290.817601
L 205.386845 270.966542
L 200.429494 269.404566
z
" clip-path="url(#pa46f4c1c01)" style="fill: #3f0b56; stroke: #3f0b56; stroke-width: 0.8; stroke-linejoin: round"/>
    <path d="M 270.84748 291.260948
L 275.962613 292.832856
L 297.274753 272.357384
L 292.213256 270.838748
z
" clip-path="url(#pa46f4c1c01)" style="fill: #3e0751; stroke: #3e0751; stroke-width: 0.8; stroke-linejoin: round"/>
    <path d="M 182.664527 290.817601
L 187.684889 292.464465
L 210.355147 272.526224
L 205.386845 270.966542
z
" clip-path="url(#pa46f4c1c01)" style="fill: #3f0b56; stroke: #3f0b56; stroke-width: 0.8; stroke-linejoin: round"/>
    <path d="M 275.962613 292.832856
L 281.089347 294.407218
L 302.347571 273.878712
L 297.274753 272.357384
z
" clip-path="url(#pa46f4c1c01)" style="fill: #3e0751; stroke: #3e0751; stroke-width: 0.8; stroke-linejoin: round"/>
    <path d="M 187.684889 292.464465
L 192.716396 294.10615
L 215.334459 274.084433
L 210.355147 272.526224
z
" clip-path="url(#pa46f4c1c01)" style="fill: #3f0b56; stroke: #3f0b56; stroke-width: 0.8; stroke-linejoin: round"/>
    <path d="M 78.824993 262.267422
L 83.961761 270.471343
L 108.532624 261.029192
L 103.602561 256.618843
z
" clip-path="url(#pa46f4c1c01)" style="fill: #424483; stroke: #424483; stroke-width: 0.8; stroke-linejoin: round"/>
    <path d="M 83.961761 270.471343
L 89.009234 276.00464
L 113.437438 264.27676
L 108.532624 261.029192
z
" clip-path="url(#pa46f4c1c01)" style="fill: #42367d; stroke: #42367d; stroke-width: 0.8; stroke-linejoin: round"/>
    <path d="M 281.089347 294.407218
L 286.227725 295.984139
L 307.431748 275.402799
L 302.347571 273.878712
z
" clip-path="url(#pa46f4c1c01)" style="fill: #3e0751; stroke: #3e0751; stroke-width: 0.8; stroke-linejoin: round"/>
    <path d="M 89.009234 276.00464
L 94.017815 280.209075
L 118.335098 266.945517
L 113.437438 264.27676
z
" clip-path="url(#pa46f4c1c01)" style="fill: #432d76; stroke: #432d76; stroke-width: 0.8; stroke-linejoin: round"/>
    <path d="M 73.446728 247.339202
L 78.824993 262.267422
L 103.602561 256.618843
L 98.592873 249.288444
z
" clip-path="url(#pa46f4c1c01)" style="fill: #3f5b89; stroke: #3f5b89; stroke-width: 0.8; stroke-linejoin: round"/>
    <path d="M 192.716396 294.10615
L 197.759122 295.743857
L 220.324832 275.641843
L 215.334459 274.084433
z
" clip-path="url(#pa46f4c1c01)" style="fill: #3f0b56; stroke: #3f0b56; stroke-width: 0.8; stroke-linejoin: round"/>
    <path d="M 286.227725 295.984139
L 291.377788 297.563711
L 312.527323 276.929712
L 307.431748 275.402799
z
" clip-path="url(#pa46f4c1c01)" style="fill: #3e0751; stroke: #3e0751; stroke-width: 0.8; stroke-linejoin: round"/>
    <path d="M 94.017815 280.209075
L 99.009042 283.657396
L 123.233368 269.285306
L 118.335098 266.945517
z
" clip-path="url(#pa46f4c1c01)" style="fill: #432772; stroke: #432772; stroke-width: 0.8; stroke-linejoin: round"/>
    <path d="M 197.759122 295.743857
L 202.813138 297.37858
L 225.326319 277.19901
L 220.324832 275.641843
z
" clip-path="url(#pa46f4c1c01)" style="fill: #3f0a54; stroke: #3f0a54; stroke-width: 0.8; stroke-linejoin: round"/>
    <path d="M 99.009042 283.657396
L 103.993674 286.635231
L 128.13614 271.420908
L 123.233368 269.285306
z
" clip-path="url(#pa46f4c1c01)" style="fill: #43236f; stroke: #43236f; stroke-width: 0.8; stroke-linejoin: round"/>
    <path d="M 291.377788 297.563711
L 296.539579 299.146022
L 317.634336 278.459506
L 312.527323 276.929712
z
" clip-path="url(#pa46f4c1c01)" style="fill: #3e0751; stroke: #3e0751; stroke-width: 0.8; stroke-linejoin: round"/>
    <path d="M 103.993674 286.635231
L 108.977694 289.300969
L 133.045596 273.421598
L 128.13614 271.420908
z
" clip-path="url(#pa46f4c1c01)" style="fill: #431f6b; stroke: #431f6b; stroke-width: 0.8; stroke-linejoin: round"/>
    <path d="M 202.813138 297.37858
L 207.878508 299.011152
L 230.338968 278.756404
L 225.326319 277.19901
z
" clip-path="url(#pa46f4c1c01)" style="fill: #3f0a54; stroke: #3f0a54; stroke-width: 0.8; stroke-linejoin: round"/>
    <path d="M 296.539579 299.146022
L 301.713138 300.731148
L 322.752826 279.992236
L 317.634336 278.459506
z
" clip-path="url(#pa46f4c1c01)" style="fill: #3e0751; stroke: #3e0751; stroke-width: 0.8; stroke-linejoin: round"/>
    <path d="M 108.977694 289.300969
L 113.964704 291.749519
L 137.963054 275.328917
L 133.045596 273.421598
z
" clip-path="url(#pa46f4c1c01)" style="fill: #421d68; stroke: #421d68; stroke-width: 0.8; stroke-linejoin: round"/>
    <path d="M 207.878508 299.011152
L 212.955294 300.64227
L 235.362827 280.314417
L 230.338968 278.756404
z
" clip-path="url(#pa46f4c1c01)" style="fill: #3f0a54; stroke: #3f0a54; stroke-width: 0.8; stroke-linejoin: round"/>
    <path d="M 301.713138 300.731148
L 306.898509 302.319162
L 327.882832 281.52795
L 322.752826 279.992236
z
" clip-path="url(#pa46f4c1c01)" style="fill: #3e0751; stroke: #3e0751; stroke-width: 0.8; stroke-linejoin: round"/>
    <path d="M 113.964704 291.749519
L 118.957005 294.041213
L 142.889371 277.169293
L 137.963054 275.328917
z
" clip-path="url(#pa46f4c1c01)" style="fill: #421b66; stroke: #421b66; stroke-width: 0.8; stroke-linejoin: round"/>
    <path d="M 212.955294 300.64227
L 218.043551 302.27253
L 240.397942 281.873386
L 235.362827 280.314417
z
" clip-path="url(#pa46f4c1c01)" style="fill: #3f0a54; stroke: #3f0a54; stroke-width: 0.8; stroke-linejoin: round"/>
    <path d="M 306.898509 302.319162
L 312.095732 303.910127
L 333.024395 283.066693
L 327.882832 281.52795
z
" clip-path="url(#pa46f4c1c01)" style="fill: #3e0751; stroke: #3e0751; stroke-width: 0.8; stroke-linejoin: round"/>
    <path d="M 118.957005 294.041213
L 123.956146 296.216244
L 147.825126 278.960343
L 142.889371 277.169293
z
" clip-path="url(#pa46f4c1c01)" style="fill: #421964; stroke: #421964; stroke-width: 0.8; stroke-linejoin: round"/>
    <path d="M 218.043551 302.27253
L 223.143337 303.902439
L 245.444358 283.433597
L 240.397942 281.873386
z
" clip-path="url(#pa46f4c1c01)" style="fill: #3f0a54; stroke: #3f0a54; stroke-width: 0.8; stroke-linejoin: round"/>
    <path d="M 312.095732 303.910127
L 317.30485 305.504104
L 338.177553 284.608507
L 333.024395 283.066693
z
" clip-path="url(#pa46f4c1c01)" style="fill: #3e0751; stroke: #3e0751; stroke-width: 0.8; stroke-linejoin: round"/>
    <path d="M 123.956146 296.216244
L 128.963209 298.302419
L 152.770735 280.71426
L 147.825126 278.960343
z
" clip-path="url(#pa46f4c1c01)" style="fill: #421863; stroke: #421863; stroke-width: 0.8; stroke-linejoin: round"/>
    <path d="M 223.143337 303.902439
L 228.254704 305.532434
L 250.502119 284.9953
L 245.444358 283.433597
z
" clip-path="url(#pa46f4c1c01)" style="fill: #3f0a54; stroke: #3f0a54; stroke-width: 0.8; stroke-linejoin: round"/>
    <path d="M 128.963209 298.302419
L 133.978976 300.319594
L 157.726504 282.439759
L 152.770735 280.71426
z
" clip-path="url(#pa46f4c1c01)" style="fill: #411761; stroke: #411761; stroke-width: 0.8; stroke-linejoin: round"/>
    <path d="M 228.254704 305.532434
L 233.377703 307.162894
L 255.571269 286.558709
L 250.502119 284.9953
z
" clip-path="url(#pa46f4c1c01)" style="fill: #3f0a54; stroke: #3f0a54; stroke-width: 0.8; stroke-linejoin: round"/>
    <path d="M 133.978976 300.319594
L 139.004035 302.282325
L 162.692668 284.143228
L 157.726504 282.439759
z
" clip-path="url(#pa46f4c1c01)" style="fill: #411560; stroke: #411560; stroke-width: 0.8; stroke-linejoin: round"/>
    <path d="M 233.377703 307.162894
L 238.512386 308.794148
L 260.65185 288.124012
L 255.571269 286.558709
z
" clip-path="url(#pa46f4c1c01)" style="fill: #3f0a54; stroke: #3f0a54; stroke-width: 0.8; stroke-linejoin: round"/>
    <path d="M 139.004035 302.282325
L 144.038833 304.201529
L 167.669413 285.829463
L 162.692668 284.143228
z
" clip-path="url(#pa46f4c1c01)" style="fill: #41145f; stroke: #41145f; stroke-width: 0.8; stroke-linejoin: round"/>
    <path d="M 238.512386 308.794148
L 243.6588 310.426486
L 265.743906 289.691376
L 260.65185 288.124012
z
" clip-path="url(#pa46f4c1c01)" style="fill: #3e0853; stroke: #3e0853; stroke-width: 0.8; stroke-linejoin: round"/>
    <path d="M 144.038833 304.201529
L 149.083724 306.085551
L 172.65689 287.502132
L 167.669413 285.829463
z
" clip-path="url(#pa46f4c1c01)" style="fill: #41135d; stroke: #41135d; stroke-width: 0.8; stroke-linejoin: round"/>
    <path d="M 243.6588 310.426486
L 248.816995 312.060161
L 270.84748 291.260948
L 265.743906 289.691376
z
" clip-path="url(#pa46f4c1c01)" style="fill: #3e0853; stroke: #3e0853; stroke-width: 0.8; stroke-linejoin: round"/>
    <path d="M 149.083724 306.085551
L 154.138989 307.940886
L 177.655225 289.164093
L 172.65689 287.502132
z
" clip-path="url(#pa46f4c1c01)" style="fill: #41135d; stroke: #41135d; stroke-width: 0.8; stroke-linejoin: round"/>
    <path d="M 248.816995 312.060161
L 253.987018 313.6954
L 275.962613 292.832856
L 270.84748 291.260948
z
" clip-path="url(#pa46f4c1c01)" style="fill: #3e0853; stroke: #3e0853; stroke-width: 0.8; stroke-linejoin: round"/>
    <path d="M 154.138989 307.940886
L 159.204862 309.772659
L 182.664527 290.817601
L 177.655225 289.164093
z
" clip-path="url(#pa46f4c1c01)" style="fill: #41125c; stroke: #41125c; stroke-width: 0.8; stroke-linejoin: round"/>
    <path d="M 253.987018 313.6954
L 259.168916 315.332402
L 281.089347 294.407218
L 275.962613 292.832856
z
" clip-path="url(#pa46f4c1c01)" style="fill: #3e0853; stroke: #3e0853; stroke-width: 0.8; stroke-linejoin: round"/>
    <path d="M 159.204862 309.772659
L 164.281537 311.584975
L 187.684889 292.464465
L 182.664527 290.817601
z
" clip-path="url(#pa46f4c1c01)" style="fill: #41125c; stroke: #41125c; stroke-width: 0.8; stroke-linejoin: round"/>
    <path d="M 164.281537 311.584975
L 169.369177 313.381157
L 192.716396 294.10615
L 187.684889 292.464465
z
" clip-path="url(#pa46f4c1c01)" style="fill: #40105a; stroke: #40105a; stroke-width: 0.8; stroke-linejoin: round"/>
    <path d="M 259.168916 315.332402
L 264.362735 316.971346
L 286.227725 295.984139
L 281.089347 294.407218
z
" clip-path="url(#pa46f4c1c01)" style="fill: #3e0853; stroke: #3e0853; stroke-width: 0.8; stroke-linejoin: round"/>
    <path d="M 169.369177 313.381157
L 174.467925 315.163925
L 197.759122 295.743857
L 192.716396 294.10615
z
" clip-path="url(#pa46f4c1c01)" style="fill: #40105a; stroke: #40105a; stroke-width: 0.8; stroke-linejoin: round"/>
    <path d="M 264.362735 316.971346
L 269.568522 318.612393
L 291.377788 297.563711
L 286.227725 295.984139
z
" clip-path="url(#pa46f4c1c01)" style="fill: #3e0853; stroke: #3e0853; stroke-width: 0.8; stroke-linejoin: round"/>
    <path d="M 174.467925 315.163925
L 179.577907 316.93553
L 202.813138 297.37858
L 197.759122 295.743857
z
" clip-path="url(#pa46f4c1c01)" style="fill: #40105a; stroke: #40105a; stroke-width: 0.8; stroke-linejoin: round"/>
    <path d="M 269.568522 318.612393
L 274.786322 320.255686
L 296.539579 299.146022
L 291.377788 297.563711
z
" clip-path="url(#pa46f4c1c01)" style="fill: #3e0853; stroke: #3e0853; stroke-width: 0.8; stroke-linejoin: round"/>
    <path d="M 179.577907 316.93553
L 184.699232 318.697847
L 207.878508 299.011152
L 202.813138 297.37858
z
" clip-path="url(#pa46f4c1c01)" style="fill: #400f59; stroke: #400f59; stroke-width: 0.8; stroke-linejoin: round"/>
    <path d="M 274.786322 320.255686
L 280.016181 321.901358
L 301.713138 300.731148
L 296.539579 299.146022
z
" clip-path="url(#pa46f4c1c01)" style="fill: #3e0853; stroke: #3e0853; stroke-width: 0.8; stroke-linejoin: round"/>
    <path d="M 184.699232 318.697847
L 189.832001 320.452456
L 212.955294 300.64227
L 207.878508 299.011152
z
" clip-path="url(#pa46f4c1c01)" style="fill: #400f59; stroke: #400f59; stroke-width: 0.8; stroke-linejoin: round"/>
    <path d="M 280.016181 321.901358
L 285.258145 323.549526
L 306.898509 302.319162
L 301.713138 300.731148
z
" clip-path="url(#pa46f4c1c01)" style="fill: #3e0853; stroke: #3e0853; stroke-width: 0.8; stroke-linejoin: round"/>
    <path d="M 189.832001 320.452456
L 194.976305 322.200693
L 218.043551 302.27253
L 212.955294 300.64227
z
" clip-path="url(#pa46f4c1c01)" style="fill: #400f59; stroke: #400f59; stroke-width: 0.8; stroke-linejoin: round"/>
    <path d="M 285.258145 323.549526
L 290.512258 325.200299
L 312.095732 303.910127
L 306.898509 302.319162
z
" clip-path="url(#pa46f4c1c01)" style="fill: #3e0853; stroke: #3e0853; stroke-width: 0.8; stroke-linejoin: round"/>
    <path d="M 194.976305 322.200693
L 200.132228 323.943699
L 223.143337 303.902439
L 218.043551 302.27253
z
" clip-path="url(#pa46f4c1c01)" style="fill: #400e58; stroke: #400e58; stroke-width: 0.8; stroke-linejoin: round"/>
    <path d="M 290.512258 325.200299
L 295.778567 326.853776
L 317.30485 305.504104
L 312.095732 303.910127
z
" clip-path="url(#pa46f4c1c01)" style="fill: #3e0853; stroke: #3e0853; stroke-width: 0.8; stroke-linejoin: round"/>
    <path d="M 67.621792 260.678786
L 72.936636 270.078963
L 99.009042 283.657396
L 94.017815 280.209075
z
" clip-path="url(#pa46f4c1c01)" style="fill: #40708b; stroke: #40708b; stroke-width: 0.8; stroke-linejoin: round"/>
    <path d="M 72.936636 270.078963
L 78.175593 277.51336
L 103.993674 286.635231
L 99.009042 283.657396
z
" clip-path="url(#pa46f4c1c01)" style="fill: #3e638a; stroke: #3e638a; stroke-width: 0.8; stroke-linejoin: round"/>
    <path d="M 78.175593 277.51336
L 83.368105 283.644753
L 108.977694 289.300969
L 103.993674 286.635231
z
" clip-path="url(#pa46f4c1c01)" style="fill: #3f5988; stroke: #3f5988; stroke-width: 0.8; stroke-linejoin: round"/>
    <path d="M 62.177689 248.110655
L 67.621792 260.678786
L 94.017815 280.209075
L 89.009234 276.00464
z
" clip-path="url(#pa46f4c1c01)" style="fill: #43808c; stroke: #43808c; stroke-width: 0.8; stroke-linejoin: round"/>
    <path d="M 83.368105 283.644753
L 88.531754 288.868539
L 113.964704 291.749519
L 108.977694 289.300969
z
" clip-path="url(#pa46f4c1c01)" style="fill: #405187; stroke: #405187; stroke-width: 0.8; stroke-linejoin: round"/>
    <path d="M 200.132228 323.943699
L 205.299848 325.682454
L 228.254704 305.532434
L 223.143337 303.902439
z
" clip-path="url(#pa46f4c1c01)" style="fill: #400e58; stroke: #400e58; stroke-width: 0.8; stroke-linejoin: round"/>
    <path d="M 88.531754 288.868539
L 93.677693 293.435217
L 118.957005 294.041213
L 113.964704 291.749519
z
" clip-path="url(#pa46f4c1c01)" style="fill: #414c86; stroke: #414c86; stroke-width: 0.8; stroke-linejoin: round"/>
    <path d="M 56.496461 229.944109
L 62.177689 248.110655
L 89.009234 276.00464
L 83.961761 270.471343
z
" clip-path="url(#pa46f4c1c01)" style="fill: #4a978a; stroke: #4a978a; stroke-width: 0.8; stroke-linejoin: round"/>
    <path d="M 205.299848 325.682454
L 210.479238 327.417805
L 233.377703 307.162894
L 228.254704 305.532434
z
" clip-path="url(#pa46f4c1c01)" style="fill: #400e58; stroke: #400e58; stroke-width: 0.8; stroke-linejoin: round"/>
    <path d="M 93.677693 293.435217
L 98.813343 297.511197
L 123.956146 296.216244
L 118.957005 294.041213
z
" clip-path="url(#pa46f4c1c01)" style="fill: #414584; stroke: #414584; stroke-width: 0.8; stroke-linejoin: round"/>
    <path d="M 98.813343 297.511197
L 103.943841 301.211349
L 128.963209 298.302419
L 123.956146 296.216244
z
" clip-path="url(#pa46f4c1c01)" style="fill: #424082; stroke: #424082; stroke-width: 0.8; stroke-linejoin: round"/>
    <path d="M 210.479238 327.417805
L 215.670467 329.150488
L 238.512386 308.794148
L 233.377703 307.162894
z
" clip-path="url(#pa46f4c1c01)" style="fill: #400e58; stroke: #400e58; stroke-width: 0.8; stroke-linejoin: round"/>
    <path d="M 103.943841 301.211349
L 109.07286 304.617529
L 133.978976 300.319594
L 128.963209 298.302419
z
" clip-path="url(#pa46f4c1c01)" style="fill: #433b80; stroke: #433b80; stroke-width: 0.8; stroke-linejoin: round"/>
    <path d="M 50.322282 200.413471
L 56.496461 229.944109
L 83.961761 270.471343
L 78.824993 262.267422
z
" clip-path="url(#pa46f4c1c01)" style="fill: #67bb78; stroke: #67bb78; stroke-width: 0.8; stroke-linejoin: round"/>
    <path d="M 215.670467 329.150488
L 220.873602 330.881143
L 243.6588 310.426486
L 238.512386 308.794148
z
" clip-path="url(#pa46f4c1c01)" style="fill: #400e58; stroke: #400e58; stroke-width: 0.8; stroke-linejoin: round"/>
    <path d="M 109.07286 304.617529
L 114.203096 307.789642
L 139.004035 302.282325
L 133.978976 300.319594
z
" clip-path="url(#pa46f4c1c01)" style="fill: #43387e; stroke: #43387e; stroke-width: 0.8; stroke-linejoin: round"/>
    <path d="M 220.873602 330.881143
L 226.088706 332.610335
L 248.816995 312.060161
L 243.6588 310.426486
z
" clip-path="url(#pa46f4c1c01)" style="fill: #400d57; stroke: #400d57; stroke-width: 0.8; stroke-linejoin: round"/>
    <path d="M 114.203096 307.789642
L 119.33658 310.772541
L 144.038833 304.201529
L 139.004035 302.282325
z
" clip-path="url(#pa46f4c1c01)" style="fill: #43357c; stroke: #43357c; stroke-width: 0.8; stroke-linejoin: round"/>
    <path d="M 119.33658 310.772541
L 124.474873 313.600476
L 149.083724 306.085551
L 144.038833 304.201529
z
" clip-path="url(#pa46f4c1c01)" style="fill: #43337a; stroke: #43337a; stroke-width: 0.8; stroke-linejoin: round"/>
    <path d="M 226.088706 332.610335
L 231.315839 334.338561
L 253.987018 313.6954
L 248.816995 312.060161
z
" clip-path="url(#pa46f4c1c01)" style="fill: #400d57; stroke: #400d57; stroke-width: 0.8; stroke-linejoin: round"/>
    <path d="M 124.474873 313.600476
L 129.619196 316.30005
L 154.138989 307.940886
L 149.083724 306.085551
z
" clip-path="url(#pa46f4c1c01)" style="fill: #433079; stroke: #433079; stroke-width: 0.8; stroke-linejoin: round"/>
    <path d="M 231.315839 334.338561
L 236.555061 336.066261
L 259.168916 315.332402
L 253.987018 313.6954
z
" clip-path="url(#pa46f4c1c01)" style="fill: #400d57; stroke: #400d57; stroke-width: 0.8; stroke-linejoin: round"/>
    <path d="M 129.619196 316.30005
L 134.770521 318.892246
L 159.204862 309.772659
L 154.138989 307.940886
z
" clip-path="url(#pa46f4c1c01)" style="fill: #432e77; stroke: #432e77; stroke-width: 0.8; stroke-linejoin: round"/>
    <path d="M 236.555061 336.066261
L 241.806428 337.793826
L 264.362735 316.971346
L 259.168916 315.332402
z
" clip-path="url(#pa46f4c1c01)" style="fill: #400d57; stroke: #400d57; stroke-width: 0.8; stroke-linejoin: round"/>
    <path d="M 134.770521 318.892246
L 139.929633 321.393835
L 164.281537 311.584975
L 159.204862 309.772659
z
" clip-path="url(#pa46f4c1c01)" style="fill: #432b76; stroke: #432b76; stroke-width: 0.8; stroke-linejoin: round"/>
    <path d="M 42.86501 141.70925
L 50.322282 200.413471
L 78.824993 262.267422
L 73.446728 247.339202
z
" clip-path="url(#pa46f4c1c01)" style="fill: #f9e855; stroke: #f9e855; stroke-width: 0.8; stroke-linejoin: round"/>
    <path d="M 241.806428 337.793826
L 247.069998 339.521606
L 269.568522 318.612393
L 264.362735 316.971346
z
" clip-path="url(#pa46f4c1c01)" style="fill: #400d57; stroke: #400d57; stroke-width: 0.8; stroke-linejoin: round"/>
    <path d="M 139.929633 321.393835
L 145.097175 323.818382
L 169.369177 313.381157
L 164.281537 311.584975
z
" clip-path="url(#pa46f4c1c01)" style="fill: #442a75; stroke: #442a75; stroke-width: 0.8; stroke-linejoin: round"/>
    <path d="M 247.069998 339.521606
L 252.345824 341.249913
L 274.786322 320.255686
L 269.568522 318.612393
z
" clip-path="url(#pa46f4c1c01)" style="fill: #400d57; stroke: #400d57; stroke-width: 0.8; stroke-linejoin: round"/>
    <path d="M 145.097175 323.818382
L 150.273682 326.176978
L 174.467925 315.163925
L 169.369177 313.381157
z
" clip-path="url(#pa46f4c1c01)" style="fill: #432873; stroke: #432873; stroke-width: 0.8; stroke-linejoin: round"/>
    <path d="M 252.345824 341.249913
L 257.63396 342.979031
L 280.016181 321.901358
L 274.786322 320.255686
z
" clip-path="url(#pa46f4c1c01)" style="fill: #3f0b56; stroke: #3f0b56; stroke-width: 0.8; stroke-linejoin: round"/>
    <path d="M 150.273682 326.176978
L 155.459602 328.478783
L 179.577907 316.93553
L 174.467925 315.163925
z
" clip-path="url(#pa46f4c1c01)" style="fill: #432772; stroke: #432772; stroke-width: 0.8; stroke-linejoin: round"/>
    <path d="M 257.63396 342.979031
L 262.93446 344.709212
L 285.258145 323.549526
L 280.016181 321.901358
z
" clip-path="url(#pa46f4c1c01)" style="fill: #3f0b56; stroke: #3f0b56; stroke-width: 0.8; stroke-linejoin: round"/>
    <path d="M 155.459602 328.478783
L 160.655315 330.731425
L 184.699232 318.697847
L 179.577907 316.93553
z
" clip-path="url(#pa46f4c1c01)" style="fill: #432671; stroke: #432671; stroke-width: 0.8; stroke-linejoin: round"/>
    <path d="M 262.93446 344.709212
L 268.247376 346.440688
L 290.512258 325.200299
L 285.258145 323.549526
z
" clip-path="url(#pa46f4c1c01)" style="fill: #3f0b56; stroke: #3f0b56; stroke-width: 0.8; stroke-linejoin: round"/>
    <path d="M 160.655315 330.731425
L 165.861149 332.941311
L 189.832001 320.452456
L 184.699232 318.697847
z
" clip-path="url(#pa46f4c1c01)" style="fill: #432570; stroke: #432570; stroke-width: 0.8; stroke-linejoin: round"/>
    <path d="M 268.247376 346.440688
L 273.572759 348.173667
L 295.778567 326.853776
L 290.512258 325.200299
z
" clip-path="url(#pa46f4c1c01)" style="fill: #3f0b56; stroke: #3f0b56; stroke-width: 0.8; stroke-linejoin: round"/>
    <path d="M 165.861149 332.941311
L 171.077385 335.11386
L 194.976305 322.200693
L 189.832001 320.452456
z
" clip-path="url(#pa46f4c1c01)" style="fill: #43236f; stroke: #43236f; stroke-width: 0.8; stroke-linejoin: round"/>
    <path d="M 171.077385 335.11386
L 176.304271 337.253688
L 200.132228 323.943699
L 194.976305 322.200693
z
" clip-path="url(#pa46f4c1c01)" style="fill: #43226d; stroke: #43226d; stroke-width: 0.8; stroke-linejoin: round"/>
    <path d="M 176.304271 337.253688
L 181.542027 339.364753
L 205.299848 325.682454
L 200.132228 323.943699
z
" clip-path="url(#pa46f4c1c01)" style="fill: #43216c; stroke: #43216c; stroke-width: 0.8; stroke-linejoin: round"/>
    <path d="M 181.542027 339.364753
L 186.790846 341.450467
L 210.479238 327.417805
L 205.299848 325.682454
z
" clip-path="url(#pa46f4c1c01)" style="fill: #431f6b; stroke: #431f6b; stroke-width: 0.8; stroke-linejoin: round"/>
    <path d="M 186.790846 341.450467
L 192.050903 343.513786
L 215.670467 329.150488
L 210.479238 327.417805
z
" clip-path="url(#pa46f4c1c01)" style="fill: #431f6b; stroke: #431f6b; stroke-width: 0.8; stroke-linejoin: round"/>
    <path d="M 192.050903 343.513786
L 197.322357 345.557288
L 220.873602 330.881143
L 215.670467 329.150488
z
" clip-path="url(#pa46f4c1c01)" style="fill: #431f6a; stroke: #431f6a; stroke-width: 0.8; stroke-linejoin: round"/>
    <path d="M 197.322357 345.557288
L 202.60535 347.583227
L 226.088706 332.610335
L 220.873602 330.881143
z
" clip-path="url(#pa46f4c1c01)" style="fill: #421e69; stroke: #421e69; stroke-width: 0.8; stroke-linejoin: round"/>
    <path d="M 202.60535 347.583227
L 207.900014 349.593588
L 231.315839 334.338561
L 226.088706 332.610335
z
" clip-path="url(#pa46f4c1c01)" style="fill: #421e69; stroke: #421e69; stroke-width: 0.8; stroke-linejoin: round"/>
    <path d="M 207.900014 349.593588
L 213.206473 351.590121
L 236.555061 336.066261
L 231.315839 334.338561
z
" clip-path="url(#pa46f4c1c01)" style="fill: #421d68; stroke: #421d68; stroke-width: 0.8; stroke-linejoin: round"/>
    <path d="M 213.206473 351.590121
L 218.524839 353.574378
L 241.806428 337.793826
L 236.555061 336.066261
z
" clip-path="url(#pa46f4c1c01)" style="fill: #421d68; stroke: #421d68; stroke-width: 0.8; stroke-linejoin: round"/>
    <path d="M 218.524839 353.574378
L 223.855217 355.547741
L 247.069998 339.521606
L 241.806428 337.793826
z
" clip-path="url(#pa46f4c1c01)" style="fill: #421b66; stroke: #421b66; stroke-width: 0.8; stroke-linejoin: round"/>
    <path d="M 223.855217 355.547741
L 229.197708 357.511443
L 252.345824 341.249913
L 247.069998 339.521606
z
" clip-path="url(#pa46f4c1c01)" style="fill: #421b66; stroke: #421b66; stroke-width: 0.8; stroke-linejoin: round"/>
    <path d="M 229.197708 357.511443
L 234.552405 359.466588
L 257.63396 342.979031
L 252.345824 341.249913
z
" clip-path="url(#pa46f4c1c01)" style="fill: #421a65; stroke: #421a65; stroke-width: 0.8; stroke-linejoin: round"/>
    <path d="M 234.552405 359.466588
L 239.919398 361.414169
L 262.93446 344.709212
L 257.63396 342.979031
z
" clip-path="url(#pa46f4c1c01)" style="fill: #421a65; stroke: #421a65; stroke-width: 0.8; stroke-linejoin: round"/>
    <path d="M 239.919398 361.414169
L 245.298772 363.355081
L 268.247376 346.440688
L 262.93446 344.709212
z
" clip-path="url(#pa46f4c1c01)" style="fill: #421964; stroke: #421964; stroke-width: 0.8; stroke-linejoin: round"/>
    <path d="M 245.298772 363.355081
L 250.690608 365.290132
L 273.572759 348.173667
L 268.247376 346.440688
z
" clip-path="url(#pa46f4c1c01)" style="fill: #421964; stroke: #421964; stroke-width: 0.8; stroke-linejoin: round"/>
   </g>
  </g>
  <g id="axes_2">
   <g id="patch_6">
    <path d="M 457.755102 314.132653
L 468.061224 314.132653
L 468.061224 108.367347
L 457.755102 108.367347
z
" style="fill: #ffffff"/>
   </g>
   <defs><linearGradient id="cbg" x1="0" y1="0" x2="0" y2="1"><stop offset="0.0000" stop-color="#f9e855"/><stop offset="0.0312" stop-color="#ebe550"/><stop offset="0.0625" stop-color="#dae24e"/><stop offset="0.0938" stop-color="#c8de4f"/><stop offset="0.1250" stop-color="#b7db53"/><stop offset="0.1562" stop-color="#a6d659"/><stop offset="0.1875" stop-color="#96d25f"/><stop offset="0.2188" stop-color="#87cd67"/><stop offset="0.2500" stop-color="#7ac76e"/><stop offset="0.2812" stop-color="#6fc074"/><stop offset="0.3125" stop-color="#65b97a"/><stop offset="0.3438" stop-color="#5db37f"/><stop offset="0.3750" stop-color="#56ac83"/><stop offset="0.4062" stop-color="#51a587"/><stop offset="0.4375" stop-color="#4d9e89"/><stop offset="0.4688" stop-color="#49968b"/><stop offset="0.5000" stop-color="#478f8b"/><stop offset="0.5312" stop-color="#44878d"/><stop offset="0.5625" stop-color="#43808c"/><stop offset="0.5938" stop-color="#41788c"/><stop offset="0.6250" stop-color="#40708b"/><stop offset="0.6562" stop-color="#3f6a8b"/><stop offset="0.6875" stop-color="#3f6289"/><stop offset="0.7188" stop-color="#3f5a89"/><stop offset="0.7500" stop-color="#405187"/><stop offset="0.7812" stop-color="#404985"/><stop offset="0.8125" stop-color="#424082"/><stop offset="0.8438" stop-color="#43387d"/><stop offset="0.8750" stop-color="#432e77"/><stop offset="0.9062" stop-color="#432570"/><stop offset="0.9375" stop-color="#421b66"/><stop offset="0.9688" stop-color="#41125c"/><stop offset="1.0000" stop-color="#3e0751"/></linearGradient></defs><rect x="457.755" y="108.367" width="10.306" height="205.765" fill="url(#cbg)"/>
   <g id="matplotlib.axis_1"/>
   <g id="matplotlib.axis_2">
    <g id="ytick_1">
     <g id="line2d_25">
      <defs>
       <path id="m33c4ce201d" d="M 0 0
L 3.5 0
" style="stroke: #000000; stroke-width: 0.8"/>
      </defs>
      <g>
       <use href="#m33c4ce201d" x="468.061224" y="273.202946" style="stroke: #000000; stroke-width: 0.8"/>
      </g>
     </g>
     <g id="text_24">
      <text style="font-size: 12px; font-family: 'DejaVu Serif', serif; text-anchor: start" x="475.061224" y="277.762009" transform="rotate(-0 475.061224 277.762009)">2</text>
     </g>
    </g>
    <g id="ytick_2">
     <g id="line2d_26">
      <g>
       <use href="#m33c4ce201d" x="468.061224" y="231.994046" style="stroke: #000000; stroke-width: 0.8"/>
      </g>
     </g>
     <g id="text_25">
      <text style="font-size: 12px; font-family: 'DejaVu Serif', serif; text-anchor: start" x="475.061224" y="236.553109" transform="rotate(-0 475.061224 236.553109)">4</text>
     </g>
    </g>
    <g id="ytick_3">
     <g id="line2d_27">
      <g>
       <use href="#m33c4ce201d" x="468.061224" y="190.785147" style="stroke: #000000; stroke-width: 0.8"/>
      </g>
     </g>
     <g id="text_26">
      <text style="font-size: 12px; font-family: 'DejaVu Serif', serif; text-anchor: start" x="475.061224" y="195.344209" transform="rotate(-0 475.061224 195.344209)">6</text>
     </g>
    </g>
    <g id="ytick_4">
     <g id="line2d_28">
      <g>
       <use href="#m33c4ce201d" x="468.061224" y="149.576247" style="stroke: #000000; stroke-width: 0.8"/>
      </g>
     </g>
     <g id="text_27">
      <text style="font-size: 12px; font-family: 'DejaVu Serif', serif; text-anchor: start" x="475.061224" y="154.135309" transform="rotate(-0 475.061224 154.135309)">8</text>
     </g>
    </g>
    <g id="ytick_5">
     <g id="line2d_29">
      <g>
       <use href="#m33c4ce201d" x="468.061224" y="108.367347" style="stroke: #000000; stroke-width: 0.8"/>
      </g>
     </g>
     <g id="text_28">
      <text style="font-size: 12px; font-family: 'DejaVu Serif', serif; text-anchor: start" x="475.061224" y="112.926409" transform="rotate(-0 475.061224 112.926409)">10</text>
     </g>
    </g>
    <g id="text_29">
     <text style="font-size: 14px; font-family: 'DejaVu Serif', serif; text-anchor: middle" x="504.969037" y="211.25" transform="rotate(-90 504.969037 211.25)">Weighted Latency (ns)</text>
    </g>
   </g>
   <g id="LineCollection_1"/>
   <g id="patch_7">
    <path d="M 457.755102 314.132653
L 462.908163 314.132653
L 468.061224 314.132653
L 468.061224 108.367347
L 462.908163 108.367347
L 457.755102 108.367347
L 457.755102 314.132653
z
" style="fill: none; stroke: #000000; stroke-width: 0.8; stroke-linejoin: miter; stroke-linecap: square"/>
   </g>
  </g>
 </g>
 <defs>
  <clipPath id="pa46f4c1c01">
   <rect x="-4.297449" y="5.602551" width="410.733163" height="410.733163"/>
  </clipPath>
 </defs>
</svg>
<svg width="2230" height="1068" viewBox="0 0 1025.287356 491.034483">

 <defs>
  <style type="text/css">*{stroke-linejoin: round; stroke-linecap: butt}</style>
 </defs>
 <g id="Rfigure_1">
  <g id="Rpatch_1">
   <path d="M 0 491.034483
L 1025.287356 491.034483
L 1025.287356 0
L 0 0
L 0 491.034483
z
" style="fill: none; opacity: 0"/>
  </g>
  <g id="Raxes_1">
   <g id="Rpatch_2">
    <path d="M 619.586207 331.448276
L 1013.103448 331.448276
L 1013.103448 57.287356
L 619.586207 57.287356
L 619.586207 331.448276
z
" style="fill: none; opacity: 0"/>
   </g>
   <g id="Rmatplotlib.axis_1">
    <g id="Rxtick_1">
     <g id="Rline2d_1">
      <defs>
       <path id="Rm1504cfccaf" d="M 0 0
L 0 3.5
" style="stroke: #000000; stroke-width: 0.8"/>
      </defs>
      <g>
       <use href="#Rm1504cfccaf" x="637.473354" y="331.448276" style="stroke: #000000; stroke-width: 0.8"/>
      </g>
     </g>
     <g id="Rtext_1">
      <text style="font-size: 12px; font-family: 'DejaVu Serif', serif; text-anchor: middle" x="637.473354" y="347.566401" transform="rotate(-0 637.473354 347.566401)">0.0</text>
     </g>
    </g>
    <g id="Rxtick_2">
     <g id="Rline2d_2">
      <g>
       <use href="#Rm1504cfccaf" x="697.097179" y="331.448276" style="stroke: #000000; stroke-width: 0.8"/>
      </g>
     </g>
     <g id="Rtext_2">
      <text style="font-size: 12px; font-family: 'DejaVu Serif', serif; text-anchor: middle" x="697.097179" y="347.566401" transform="rotate(-0 697.097179 347.566401)">0.5</text>
     </g>
    </g>
    <g id="Rxtick_3">
     <g id="Rline2d_3">
      <g>
       <use href="#Rm1504cfccaf" x="756.721003" y="331.448276" style="stroke: #000000; stroke-width: 0.8"/>
      </g>
     </g>
     <g id="Rtext_3">
      <text style="font-size: 12px; font-family: 'DejaVu Serif', serif; text-anchor: middle" x="756.721003" y="347.566401" transform="rotate(-0 756.721003 347.566401)">1.0</text>
     </g>
    </g>
    <g id="Rxtick_4">
     <g id="Rline2d_4">
      <g>
       <use href="#Rm1504cfccaf" x="816.344828" y="331.448276" style="stroke: #000000; stroke-width: 0.8"/>
      </g>
     </g>
     <g id="Rtext_4">
      <text style="font-size: 12px; font-family: 'DejaVu Serif', serif; text-anchor: middle" x="816.344828" y="347.566401" transform="rotate(-0 816.344828 347.566401)">1.5</text>
     </g>
    </g>
    <g id="Rxtick_5">
     <g id="Rline2d_5">
      <g>
       <use href="#Rm1504cfccaf" x="875.968652" y="331.448276" style="stroke: #000000; stroke-width: 0.8"/>
      </g>
     </g>
     <g id="Rtext_5">
      <text style="font-size: 12px; font-family: 'DejaVu Serif', serif; text-anchor: middle" x="875.968652" y="347.566401" transform="rotate(-0 875.968652 347.566401)">2.0</text>
     </g>
    </g>
    <g id="Rxtick_6">
     <g id="Rline2d_6">
      <g>
       <use href="#Rm1504cfccaf" x="935.592476" y="331.448276" style="stroke: #000000; stroke-width: 0.8"/>
      </g>
     </g>
     <g id="Rtext_6">
      <text style="font-size: 12px; font-family: 'DejaVu Serif', serif; text-anchor: middle" x="935.592476" y="347.566401" transform="rotate(-0 935.592476 347.566401)">2.5</text>
     </g>
    </g>
    <g id="Rxtick_7">
     <g id="Rline2d_7">
      <g>
       <use href="#Rm1504cfccaf" x="995.216301" y="331.448276" style="stroke: #000000; stroke-width: 0.8"/>
      </g>
     </g>
     <g id="Rtext_7">
      <text style="font-size: 12px; font-family: 'DejaVu Serif', serif; text-anchor: middle" x="995.216301" y="347.566401" transform="rotate(-0 995.216301 347.566401)">3.0</text>
     </g>
    </g>
    <g id="Rtext_8">
     <text style="font-size: 14px; font-family: 'DejaVu Serif', serif; text-anchor: middle" x="816.344828" y="364.699838" transform="rotate(-0 816.344828 364.699838)">Frequency (GHz)</text>
    </g>
   </g>
   <g id="Rmatplotlib.axis_2">
    <g id="Rytick_1">
     <g id="Rline2d_8">
      <defs>
       <path id="Rm5d545ce8f8" d="M 0 0
L -3.5 0
" style="stroke: #000000; stroke-width: 0.8"/>
      </defs>
      <g>
       <use href="#Rm5d545ce8f8" x="619.586207" y="318.986416" style="stroke: #000000; stroke-width: 0.8"/>
      </g>
     </g>
     <g id="Rtext_9">
      <text style="font-size: 12px; font-family: 'DejaVu Serif', serif; text-anchor: end" x="612.586207" y="323.545478" transform="rotate(-0 612.586207 323.545478)">0.0</text>
     </g>
    </g>
    <g id="Rytick_2">
     <g id="Rline2d_9">
      <g>
       <use href="#Rm5d545ce8f8" x="619.586207" y="279.424956" style="stroke: #000000; stroke-width: 0.8"/>
      </g>
     </g>
     <g id="Rtext_10">
      <text style="font-size: 12px; font-family: 'DejaVu Serif', serif; text-anchor: end" x="612.586207" y="283.984018" transform="rotate(-0 612.586207 283.984018)">0.2</text>
     </g>
    </g>
    <g id="Rytick_3">
     <g id="Rline2d_10">
      <g>
       <use href="#Rm5d545ce8f8" x="619.586207" y="239.863495" style="stroke: #000000; stroke-width: 0.8"/>
      </g>
     </g>
     <g id="Rtext_11">
      <text style="font-size: 12px; font-family: 'DejaVu Serif', serif; text-anchor: end" x="612.586207" y="244.422558" transform="rotate(-0 612.586207 244.422558)">0.4</text>
     </g>
    </g>
    <g id="Rytick_4">
     <g id="Rline2d_11">
      <g>
       <use href="#Rm5d545ce8f8" x="619.586207" y="200.302035" style="stroke: #000000; stroke-width: 0.8"/>
      </g>
     </g>
     <g id="Rtext_12">
      <text style="font-size: 12px; font-family: 'DejaVu Serif', serif; text-anchor: end" x="612.586207" y="204.861098" transform="rotate(-0 612.586207 204.861098)">0.6</text>
     </g>
    </g>
    <g id="Rytick_5">
     <g id="Rline2d_12">
      <g>
       <use href="#Rm5d545ce8f8" x="619.586207" y="160.740575" style="stroke: #000000; stroke-width: 0.8"/>
      </g>
     </g>
     <g id="Rtext_13">
      <text style="font-size: 12px; font-family: 'DejaVu Serif', serif; text-anchor: end" x="612.586207" y="165.299637" transform="rotate(-0 612.586207 165.299637)">0.8</text>
     </g>
    </g>
    <g id="Rytick_6">
     <g id="Rline2d_13">
      <g>
       <use href="#Rm5d545ce8f8" x="619.586207" y="121.179115" style="stroke: #000000; stroke-width: 0.8"/>
      </g>
     </g>
     <g id="Rtext_14">
      <text style="font-size: 12px; font-family: 'DejaVu Serif', serif; text-anchor: end" x="612.586207" y="125.738177" transform="rotate(-0 612.586207 125.738177)">1.0</text>
     </g>
    </g>
    <g id="Rytick_7">
     <g id="Rline2d_14">
      <g>
       <use href="#Rm5d545ce8f8" x="619.586207" y="81.617654" style="stroke: #000000; stroke-width: 0.8"/>
      </g>
     </g>
     <g id="Rtext_15">
      <text style="font-size: 12px; font-family: 'DejaVu Serif', serif; text-anchor: end" x="612.586207" y="86.176717" transform="rotate(-0 612.586207 86.176717)">1.2</text>
     </g>
    </g>
    <g id="Rtext_16">
     <text style="font-size: 14px; font-family: 'DejaVu Serif', serif; text-anchor: middle" x="586.391832" y="194.367816" transform="rotate(-90 586.391832 194.367816)">Energy Consumption (Joules)</text>
    </g>
    <g id="Rtext_17">
     <text style="font-size: 12px; font-family: 'DejaVu Serif', serif; text-anchor: start" x="619.586207" y="54.287356" transform="rotate(-0 619.586207 54.287356)">1e−6</text>
    </g>
   </g>
   <g id="Rline2d_15">
    <path d="M 637.473354 318.986416
L 697.097179 312.06316
L 756.721003 299.205686
L 816.344828 274.479773
L 875.968652 231.951203
L 935.592476 165.685757
L 995.216301 69.749216
" clip-path="url(#Rp11503dfcce)" style="fill: none; stroke: #3b75af; stroke-width: 1.5; stroke-linecap: square"/>
    <defs>
     <path id="Rmf14c53ed57" d="M 0 3
C 0.795609 3 1.55874 2.683901 2.12132 2.12132
C 2.683901 1.55874 3 0.795609 3 0
C 3 -0.795609 2.683901 -1.55874 2.12132 -2.12132
C 1.55874 -2.683901 0.795609 -3 0 -3
C -0.795609 -3 -1.55874 -2.683901 -2.12132 -2.12132
C -2.683901 -1.55874 -3 -0.795609 -3 0
C -3 0.795609 -2.683901 1.55874 -2.12132 2.12132
C -1.55874 2.683901 -0.795609 3 0 3
z
" style="stroke: #3b75af"/>
    </defs>
    <g clip-path="url(#Rp11503dfcce)">
     <use href="#Rmf14c53ed57" x="637.473354" y="318.986416" style="fill: #3b75af; stroke: #3b75af"/>
     <use href="#Rmf14c53ed57" x="697.097179" y="312.06316" style="fill: #3b75af; stroke: #3b75af"/>
     <use href="#Rmf14c53ed57" x="756.721003" y="299.205686" style="fill: #3b75af; stroke: #3b75af"/>
     <use href="#Rmf14c53ed57" x="816.344828" y="274.479773" style="fill: #3b75af; stroke: #3b75af"/>
     <use href="#Rmf14c53ed57" x="875.968652" y="231.951203" style="fill: #3b75af; stroke: #3b75af"/>
     <use href="#Rmf14c53ed57" x="935.592476" y="165.685757" style="fill: #3b75af; stroke: #3b75af"/>
     <use href="#Rmf14c53ed57" x="995.216301" y="69.749216" style="fill: #3b75af; stroke: #3b75af"/>
    </g>
   </g>
   <g id="Rline2d_16">
    <path d="M 637.473354 318.986416
L 697.097179 313.052197
L 756.721003 307.117978
L 816.344828 301.183759
L 875.968652 295.24954
L 935.592476 289.315321
L 995.216301 283.381102
" clip-path="url(#Rp11503dfcce)" style="fill: none; stroke: #ef8636; stroke-width: 1.5; stroke-linecap: square"/>
    <defs>
     <path id="Rma995aa5aff" d="M 0 -3
L -3 3
L 3 3
z
" style="stroke: #ef8636; stroke-linejoin: miter"/>
    </defs>
    <g clip-path="url(#Rp11503dfcce)">
     <use href="#Rma995aa5aff" x="637.473354" y="318.986416" style="fill: #ef8636; stroke: #ef8636; stroke-linejoin: miter"/>
     <use href="#Rma995aa5aff" x="697.097179" y="313.052197" style="fill: #ef8636; stroke: #ef8636; stroke-linejoin: miter"/>
     <use href="#Rma995aa5aff" x="756.721003" y="307.117978" style="fill: #ef8636; stroke: #ef8636; stroke-linejoin: miter"/>
     <use href="#Rma995aa5aff" x="816.344828" y="301.183759" style="fill: #ef8636; stroke: #ef8636; stroke-linejoin: miter"/>
     <use href="#Rma995aa5aff" x="875.968652" y="295.24954" style="fill: #ef8636; stroke: #ef8636; stroke-linejoin: miter"/>
     <use href="#Rma995aa5aff" x="935.592476" y="289.315321" style="fill: #ef8636; stroke: #ef8636; stroke-linejoin: miter"/>
     <use href="#Rma995aa5aff" x="995.216301" y="283.381102" style="fill: #ef8636; stroke: #ef8636; stroke-linejoin: miter"/>
    </g>
   </g>
   <g id="Rline2d_17">
    <path d="M 637.473354 318.986416
L 697.097179 317.997379
L 756.721003 311.074124
L 816.344828 292.28243
L 875.968652 255.688079
L 935.592476 195.356853
L 995.216301 105.354531
" clip-path="url(#Rp11503dfcce)" style="fill: none; stroke: #519e3e; stroke-width: 1.5; stroke-linecap: square"/>
    <defs>
     <path id="Rm94107aab24" d="M -0 4.242641
L 2.545584 0
L 0 -4.242641
L -2.545584 -0
z
" style="stroke: #519e3e; stroke-linejoin: miter"/>
    </defs>
    <g clip-path="url(#Rp11503dfcce)">
     <use href="#Rm94107aab24" x="637.473354" y="318.986416" style="fill: #519e3e; stroke: #519e3e; stroke-linejoin: miter"/>
     <use href="#Rm94107aab24" x="697.097179" y="317.997379" style="fill: #519e3e; stroke: #519e3e; stroke-linejoin: miter"/>
     <use href="#Rm94107aab24" x="756.721003" y="311.074124" style="fill: #519e3e; stroke: #519e3e; stroke-linejoin: miter"/>
     <use href="#Rm94107aab24" x="816.344828" y="292.28243" style="fill: #519e3e; stroke: #519e3e; stroke-linejoin: miter"/>
     <use href="#Rm94107aab24" x="875.968652" y="255.688079" style="fill: #519e3e; stroke: #519e3e; stroke-linejoin: miter"/>
     <use href="#Rm94107aab24" x="935.592476" y="195.356853" style="fill: #519e3e; stroke: #519e3e; stroke-linejoin: miter"/>
     <use href="#Rm94107aab24" x="995.216301" y="105.354531" style="fill: #519e3e; stroke: #519e3e; stroke-linejoin: miter"/>
    </g>
   </g>
   <g id="Rpatch_3">
    <path d="M 619.586207 331.448276
L 619.586207 57.287356
" style="fill: none; stroke: #000000; stroke-width: 0.8; stroke-linejoin: miter; stroke-linecap: square"/>
   </g>
   <g id="Rpatch_4">
    <path d="M 1013.103448 331.448276
L 1013.103448 57.287356
" style="fill: none; stroke: #000000; stroke-width: 0.8; stroke-linejoin: miter; stroke-linecap: square"/>
   </g>
   <g id="Rpatch_5">
    <path d="M 619.586207 331.448276
L 1013.103448 331.448276
" style="fill: none; stroke: #000000; stroke-width: 0.8; stroke-linejoin: miter; stroke-linecap: square"/>
   </g>
   <g id="Rpatch_6">
    <path d="M 619.586207 57.287356
L 1013.103448 57.287356
" style="fill: none; stroke: #000000; stroke-width: 0.8; stroke-linejoin: miter; stroke-linecap: square"/>
   </g>
   <g id="Rlegend_1">
    <g id="Rpatch_7">
     <path d="M 627.986207 120.240481
L 832.308707 120.240481
Q 834.708707 120.240481 834.708707 117.840481
L 834.708707 65.687356
Q 834.708707 63.287356 832.308707 63.287356
L 627.986207 63.287356
Q 625.586207 63.287356 625.586207 65.687356
L 625.586207 117.840481
Q 625.586207 120.240481 627.986207 120.240481
z
" style="fill: #ffffff; opacity: 0.8; stroke: #cccccc; stroke-linejoin: miter"/>
    </g>
    <g id="Rline2d_18">
     <path d="M 630.386207 73.005481
L 642.386207 73.005481
L 654.386207 73.005481
" style="fill: none; stroke: #3b75af; stroke-width: 1.5; stroke-linecap: square"/>
     <g>
      <use href="#Rmf14c53ed57" x="642.386207" y="73.005481" style="fill: #3b75af; stroke: #3b75af"/>
     </g>
    </g>
    <g id="Rtext_18">
     <text style="font-size: 12px; font-family: 'DejaVu Serif', serif; text-anchor: start" x="663.986207" y="77.205481" transform="rotate(-0 663.986207 77.205481)">Total energy consumption</text>
    </g>
    <g id="Rline2d_19">
     <path d="M 630.386207 90.789856
L 642.386207 90.789856
L 654.386207 90.789856
" style="fill: none; stroke: #ef8636; stroke-width: 1.5; stroke-linecap: square"/>
     <g>
      <use href="#Rma995aa5aff" x="642.386207" y="90.789856" style="fill: #ef8636; stroke: #ef8636; stroke-linejoin: miter"/>
     </g>
    </g>
    <g id="Rtext_19">
     <text style="font-size: 12px; font-family: 'DejaVu Serif', serif; text-anchor: start" x="663.986207" y="94.989856" transform="rotate(-0 663.986207 94.989856)">Idle energy consumption</text>
    </g>
    <g id="Rline2d_20">
     <path d="M 630.386207 108.574231
L 642.386207 108.574231
L 654.386207 108.574231
" style="fill: none; stroke: #519e3e; stroke-width: 1.5; stroke-linecap: square"/>
     <g>
      <use href="#Rm94107aab24" x="642.386207" y="108.574231" style="fill: #519e3e; stroke: #519e3e; stroke-linejoin: miter"/>
     </g>
    </g>
    <g id="Rtext_20">
     <text style="font-size: 12px; font-family: 'DejaVu Serif', serif; text-anchor: start" x="663.986207" y="112.774231" transform="rotate(-0 663.986207 112.774231)">Active energy consumption</text>
    </g>
   </g>
  </g>
 </g>
 <defs>
  <clipPath id="Rp11503dfcce">
   <rect x="619.586207" y="57.287356" width="393.517241" height="274.16092"/>
  </clipPath>
 </defs>
</svg>
<div class="cap" id="ca" style="left:8px;top:852.5px;font-size:51.3px;transform:scaleX(0.976);transform-origin:0 0;">(a) Weight latency vs. frequency and task priority.</div>
<div class="cap" id="cb" style="left:1337px;top:852.5px;font-size:51.3px;transform:scaleX(0.981);transform-origin:0 0;">(b) Energy consumption vs. frequency.</div>
<div class="cap" id="cf" style="left:473px;top:947.5px;font-size:55.3px;transform:scaleX(1.013);transform-origin:0 0;">Figure 2: Processor energy consumption and task latency.</div>

</body></html>
